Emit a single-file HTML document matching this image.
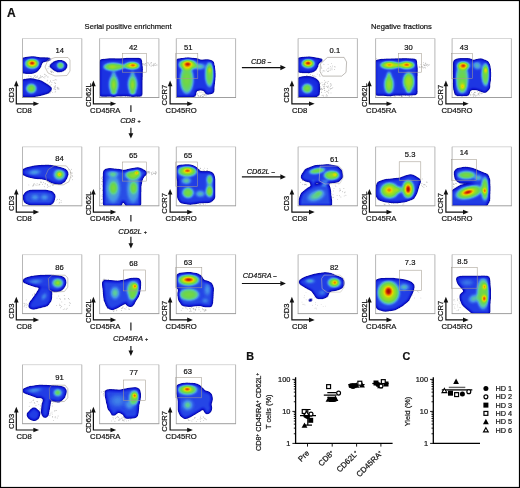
<!DOCTYPE html>
<html><head><meta charset="utf-8"><style>html,body{margin:0;padding:0;background:#fff;width:520px;height:488px;overflow:hidden}svg{display:block;will-change:transform}text{fill:#111;stroke:#111;stroke-width:0.2px}</style></head><body>
<svg width="520" height="488" viewBox="0 0 520 488" font-family="&quot;Liberation Sans&quot;, sans-serif" style="font-family:&quot;Liberation Sans&quot;, sans-serif">
<defs>
<radialGradient id="g"><stop offset="0" stop-color="#fff" stop-opacity="1"/><stop offset="0.2" stop-color="#fff" stop-opacity="0.92"/><stop offset="0.4" stop-color="#fff" stop-opacity="0.75"/><stop offset="0.6" stop-color="#fff" stop-opacity="0.5"/><stop offset="0.8" stop-color="#fff" stop-opacity="0.22"/><stop offset="1" stop-color="#fff" stop-opacity="0"/></radialGradient>
<radialGradient id="h"><stop offset="0" stop-color="#fff" stop-opacity="1"/><stop offset="0.4" stop-color="#fff" stop-opacity="0.95"/><stop offset="0.7" stop-color="#fff" stop-opacity="0.75"/><stop offset="0.85" stop-color="#fff" stop-opacity="0.4"/><stop offset="1" stop-color="#fff" stop-opacity="0"/></radialGradient>
<filter id="jet" x="-5%" y="-5%" width="110%" height="110%" color-interpolation-filters="sRGB">
<feGaussianBlur stdDeviation="0.9"/>
<feColorMatrix type="matrix" values="0 0 0 1 0  0 0 0 1 0  0 0 0 1 0  0 0 0 30 -0.25"/>
<feComponentTransfer>
<feFuncR type="table" tableValues="0 0.06 0.13 0.27 0.36 0.42 0.62 0.9 0.93 0.8 0.55"/>
<feFuncG type="table" tableValues="0 0.1 0.24 0.56 0.8 0.84 0.87 0.85 0.5 0.12 0"/>
<feFuncB type="table" tableValues="0.55 0.85 0.9 0.92 0.62 0.3 0.12 0.0 0 0.02 0"/>
</feComponentTransfer>
</filter>
<clipPath id="pc"><rect x="0" y="0" width="59.3" height="59"/></clipPath>
</defs>
<rect x="0" y="0" width="520" height="488" fill="#fff"/>
<rect x="0.5" y="0.5" width="519" height="487" fill="none" stroke="#000" stroke-width="1.2"/>
<text x="7" y="16.7" font-size="12" font-weight="bold" fill="#000">A</text>
<text x="84.6" y="28.9" font-size="7.6" fill="#222">Serial positive enrichment</text>
<text x="371.1" y="29.3" font-size="7.6" fill="#222">Negative fractions</text>
<g transform="translate(22.5,38.5)">
<g fill="#4a4a4a" opacity="0.5"><circle cx="28.6" cy="50.8" r="0.45"/><circle cx="28.7" cy="46.3" r="0.45"/><circle cx="25.3" cy="46.9" r="0.45"/><circle cx="35.3" cy="50.0" r="0.45"/><circle cx="35.1" cy="49.2" r="0.45"/><circle cx="32.2" cy="49.0" r="0.45"/><circle cx="23.5" cy="51.3" r="0.45"/><circle cx="32.7" cy="50.7" r="0.45"/><circle cx="24.6" cy="42.4" r="0.45"/><circle cx="25.5" cy="45.7" r="0.45"/><circle cx="31.7" cy="47.7" r="0.45"/><circle cx="32.7" cy="44.7" r="0.45"/><circle cx="31.7" cy="50.2" r="0.45"/><circle cx="27.4" cy="54.7" r="0.45"/><circle cx="32.6" cy="53.5" r="0.45"/><circle cx="26.9" cy="44.3" r="0.45"/><circle cx="28.1" cy="47.4" r="0.45"/><circle cx="33.4" cy="49.3" r="0.45"/><circle cx="27.8" cy="43.3" r="0.45"/><circle cx="27.6" cy="53.6" r="0.45"/><circle cx="25.8" cy="49.3" r="0.45"/><circle cx="31.8" cy="41.6" r="0.45"/><circle cx="30.2" cy="54.1" r="0.45"/><circle cx="22.6" cy="46.8" r="0.45"/><circle cx="29.4" cy="43.7" r="0.45"/><circle cx="32.7" cy="47.7" r="0.45"/><circle cx="23.9" cy="51.4" r="0.45"/><circle cx="33.2" cy="52.6" r="0.45"/><circle cx="36.3" cy="49.6" r="0.45"/><circle cx="30.6" cy="42.0" r="0.45"/><circle cx="33.2" cy="44.8" r="0.45"/><circle cx="27.9" cy="42.2" r="0.45"/><circle cx="25.3" cy="45.4" r="0.45"/><circle cx="34.2" cy="41.4" r="0.45"/><circle cx="23.6" cy="49.1" r="0.45"/><circle cx="36.2" cy="50.5" r="0.45"/><circle cx="25.2" cy="41.6" r="0.45"/><circle cx="31.9" cy="44.2" r="0.45"/><circle cx="25.1" cy="52.3" r="0.45"/><circle cx="35.4" cy="48.8" r="0.45"/><circle cx="31.3" cy="50.4" r="0.45"/><circle cx="36.5" cy="50.5" r="0.45"/><circle cx="32.7" cy="50.9" r="0.45"/><circle cx="24.2" cy="52.7" r="0.45"/><circle cx="34.7" cy="50.6" r="0.45"/><circle cx="22.8" cy="45.7" r="0.45"/><circle cx="33.1" cy="41.3" r="0.45"/><circle cx="29.1" cy="53.1" r="0.45"/><circle cx="25.2" cy="53.8" r="0.45"/><circle cx="33.0" cy="47.2" r="0.45"/></g>
<g fill="#4a4a4a" opacity="0.5"><circle cx="18.2" cy="39.3" r="0.45"/><circle cx="16.7" cy="40.1" r="0.45"/><circle cx="11.7" cy="37.2" r="0.45"/><circle cx="22.5" cy="38.0" r="0.45"/><circle cx="10.9" cy="39.7" r="0.45"/><circle cx="24.0" cy="37.3" r="0.45"/><circle cx="8.2" cy="37.8" r="0.45"/><circle cx="15.0" cy="37.4" r="0.45"/><circle cx="23.1" cy="36.4" r="0.45"/><circle cx="22.3" cy="36.1" r="0.45"/><circle cx="11.1" cy="39.2" r="0.45"/><circle cx="22.3" cy="39.4" r="0.45"/><circle cx="18.4" cy="38.3" r="0.45"/><circle cx="17.0" cy="39.2" r="0.45"/><circle cx="14.8" cy="38.6" r="0.45"/><circle cx="19.9" cy="38.0" r="0.45"/><circle cx="20.8" cy="39.1" r="0.45"/><circle cx="25.2" cy="38.4" r="0.45"/><circle cx="13.1" cy="37.2" r="0.45"/><circle cx="15.9" cy="39.8" r="0.45"/><circle cx="13.7" cy="38.8" r="0.45"/><circle cx="21.8" cy="35.6" r="0.45"/><circle cx="9.2" cy="38.4" r="0.45"/><circle cx="18.7" cy="38.5" r="0.45"/><circle cx="13.2" cy="39.3" r="0.45"/><circle cx="17.9" cy="36.9" r="0.45"/><circle cx="25.6" cy="38.4" r="0.45"/><circle cx="12.2" cy="37.8" r="0.45"/><circle cx="14.4" cy="37.9" r="0.45"/><circle cx="6.3" cy="37.5" r="0.45"/></g>
<g fill="#4a4a4a" opacity="0.5"><circle cx="31.2" cy="28.5" r="0.45"/><circle cx="28.8" cy="33.4" r="0.45"/><circle cx="30.8" cy="34.0" r="0.45"/><circle cx="25.5" cy="30.3" r="0.45"/><circle cx="28.1" cy="32.7" r="0.45"/><circle cx="30.5" cy="27.3" r="0.45"/><circle cx="31.2" cy="28.1" r="0.45"/><circle cx="30.4" cy="27.9" r="0.45"/><circle cx="29.4" cy="33.8" r="0.45"/><circle cx="28.6" cy="31.5" r="0.45"/><circle cx="31.1" cy="31.4" r="0.45"/><circle cx="28.8" cy="34.3" r="0.45"/><circle cx="31.6" cy="30.3" r="0.45"/><circle cx="32.7" cy="29.5" r="0.45"/><circle cx="31.3" cy="30.3" r="0.45"/><circle cx="29.4" cy="32.9" r="0.45"/><circle cx="29.6" cy="32.7" r="0.45"/><circle cx="26.3" cy="28.3" r="0.45"/><circle cx="30.5" cy="28.7" r="0.45"/><circle cx="27.0" cy="28.1" r="0.45"/></g>
<g clip-path="url(#pc)"><g filter="url(#jet)">
<path d="M0.0 20.2 L5.0 19.4 L12.0 19.3 L17.5 20.0 L22.0 19.9 L27.5 20.2 L29.0 20.8 L25.0 21.8 L20.0 22.7 L18.0 25.0 L16.5 29.0 L14.0 32.5 L10.0 34.2 L4.0 34.3 L0.0 33.8 Z" fill="#fff" fill-opacity="0.15"/>
<ellipse cx="9.6" cy="25.5" rx="10" ry="7.5" fill="url(#g)" opacity="0.22"/>
<ellipse cx="9.6" cy="25.0" rx="7.5" ry="5.2" fill="url(#h)" opacity="0.5"/>
<ellipse cx="9.6" cy="24.6" rx="4.5" ry="2.8" fill="url(#g)" opacity="0.85"/>
<ellipse cx="9.6" cy="24.5" rx="2.8" ry="1.5" fill="url(#g)" opacity="1.0"/>
<path d="M27.5 27.5 L30.0 25.2 L33.0 23.3 L37.0 22.8 L41.0 23.5 L43.5 25.5 L44.0 27.5 L42.5 30.5 L39.0 32.5 L35.0 32.8 L31.0 30.5 Z" fill="#fff" fill-opacity="0.15"/>
<ellipse cx="38" cy="26.9" rx="4.2" ry="4.0" fill="url(#h)" opacity="0.42"/>
<path d="M-0.5 41.9 L8.1 40.8 L18.0 42.8 L24.1 46.5 L29.0 49.9 L25.9 53.9 L18.0 56.3 L9.3 57.8 L-0.5 57.6 Z" fill="#fff" fill-opacity="0.15"/>
<ellipse cx="8.8" cy="50.0" rx="7.5" ry="7" fill="url(#g)" opacity="0.22"/>
<ellipse cx="8.8" cy="50.0" rx="5.5" ry="5.2" fill="url(#h)" opacity="0.33"/>
</g></g>
<path d="M32.5 19.0 L45.5 19.0 L47.5 21.5 L47.5 32.5 L44.5 37.0 L32.5 37.5 L25.5 34.5 L22.5 28.5 L25.5 21.5 Z" fill="none" stroke="#a39c90" stroke-width="0.55" stroke-linejoin="round"/>
<text x="37.3" y="14.55" font-size="7.6" text-anchor="middle" fill="#222">14</text>
</g>
<path d="M22.5 38.5 H81.8" stroke="#d2d2d2" stroke-width="0.9" fill="none"/>
<path d="M81.8 38.5 V97.5" stroke="#a4a4a4" stroke-width="0.8" fill="none"/>
<path d="M22.5 38.5 V97.5" stroke="#a4a4a4" stroke-width="0.8" fill="none"/>
<path d="M22.1 97.5 H82.2" stroke="#8e8e8e" stroke-width="0.85" fill="none"/>
<path d="M16.3 85.5 V103.8 H34.1" fill="none" stroke="#111" stroke-width="1.2"/>
<path d="M14.0 86.3 L16.3 80.6 L18.6 86.3 Z" fill="#111"/>
<path d="M33.4 101.5 L39.1 103.8 L33.4 106.1 Z" fill="#111"/>
<text x="16.40" y="112.90" font-size="7.7" fill="#222">CD8</text>
<text transform="translate(13.60,95.10) rotate(-90)" text-anchor="middle" font-size="7.6" fill="#222">CD3</text>
<g transform="translate(99.6,38.5)">
<g fill="#4a4a4a" opacity="0.5"><circle cx="1.4" cy="45.4" r="0.45"/><circle cx="1.4" cy="29.5" r="0.45"/><circle cx="0.8" cy="25.6" r="0.45"/><circle cx="1.1" cy="52.4" r="0.45"/><circle cx="1.3" cy="36.0" r="0.45"/><circle cx="0.7" cy="30.7" r="0.45"/><circle cx="1.0" cy="43.0" r="0.45"/><circle cx="1.4" cy="28.9" r="0.45"/><circle cx="1.2" cy="51.0" r="0.45"/><circle cx="1.4" cy="36.2" r="0.45"/><circle cx="0.9" cy="39.6" r="0.45"/><circle cx="1.4" cy="35.4" r="0.45"/><circle cx="1.0" cy="30.7" r="0.45"/><circle cx="0.8" cy="47.7" r="0.45"/><circle cx="0.8" cy="51.8" r="0.45"/><circle cx="0.8" cy="49.6" r="0.45"/><circle cx="1.3" cy="50.6" r="0.45"/><circle cx="0.7" cy="37.6" r="0.45"/><circle cx="1.5" cy="38.4" r="0.45"/><circle cx="1.1" cy="48.9" r="0.45"/></g>
<g fill="#4a4a4a" opacity="0.5"><circle cx="49.1" cy="24.5" r="0.45"/><circle cx="47.4" cy="27.3" r="0.45"/><circle cx="43.3" cy="25.4" r="0.45"/><circle cx="54.7" cy="26.9" r="0.45"/><circle cx="50.0" cy="27.1" r="0.45"/><circle cx="50.8" cy="24.6" r="0.45"/><circle cx="43.5" cy="25.3" r="0.45"/><circle cx="54.5" cy="25.3" r="0.45"/><circle cx="45.7" cy="25.1" r="0.45"/><circle cx="43.4" cy="25.9" r="0.45"/><circle cx="44.4" cy="26.4" r="0.45"/><circle cx="42.3" cy="26.3" r="0.45"/><circle cx="47.7" cy="24.2" r="0.45"/><circle cx="53.8" cy="25.6" r="0.45"/><circle cx="42.8" cy="25.3" r="0.45"/><circle cx="51.6" cy="25.4" r="0.45"/><circle cx="53.8" cy="26.9" r="0.45"/><circle cx="53.5" cy="26.4" r="0.45"/><circle cx="55.9" cy="26.7" r="0.45"/><circle cx="51.6" cy="24.1" r="0.45"/><circle cx="53.8" cy="27.4" r="0.45"/><circle cx="48.4" cy="25.4" r="0.45"/><circle cx="55.8" cy="24.7" r="0.45"/><circle cx="51.5" cy="27.9" r="0.45"/><circle cx="45.5" cy="26.8" r="0.45"/><circle cx="57.3" cy="25.9" r="0.45"/><circle cx="52.8" cy="27.1" r="0.45"/><circle cx="45.4" cy="25.9" r="0.45"/><circle cx="51.5" cy="27.1" r="0.45"/><circle cx="49.8" cy="25.7" r="0.45"/><circle cx="45.0" cy="25.6" r="0.45"/><circle cx="54.6" cy="26.1" r="0.45"/><circle cx="45.9" cy="25.0" r="0.45"/><circle cx="57.3" cy="26.8" r="0.45"/><circle cx="51.9" cy="24.1" r="0.45"/></g>
<g fill="#4a4a4a" opacity="0.5"><circle cx="29.3" cy="58.3" r="0.45"/><circle cx="37.4" cy="58.2" r="0.45"/><circle cx="21.2" cy="58.4" r="0.45"/><circle cx="6.8" cy="58.4" r="0.45"/><circle cx="25.8" cy="57.5" r="0.45"/><circle cx="8.4" cy="57.6" r="0.45"/><circle cx="25.7" cy="58.1" r="0.45"/><circle cx="17.6" cy="57.4" r="0.45"/><circle cx="37.7" cy="58.4" r="0.45"/><circle cx="11.3" cy="57.3" r="0.45"/><circle cx="36.4" cy="58.5" r="0.45"/><circle cx="37.3" cy="58.4" r="0.45"/><circle cx="12.0" cy="58.2" r="0.45"/><circle cx="5.6" cy="57.7" r="0.45"/><circle cx="21.3" cy="58.4" r="0.45"/><circle cx="13.3" cy="57.9" r="0.45"/><circle cx="27.6" cy="58.3" r="0.45"/><circle cx="29.7" cy="58.1" r="0.45"/><circle cx="22.6" cy="57.5" r="0.45"/><circle cx="14.4" cy="58.0" r="0.45"/><circle cx="20.6" cy="58.1" r="0.45"/><circle cx="22.0" cy="58.1" r="0.45"/><circle cx="20.6" cy="57.3" r="0.45"/></g>
<g clip-path="url(#pc)"><g filter="url(#jet)">
<path d="M0.8 22.0 L10.0 21.0 L20.0 21.3 L30.0 20.6 L41.0 20.8 L42.0 30.0 L41.6 45.0 L41.7 56.9 L25.0 56.5 L0.8 57.0 Z" fill="#fff" fill-opacity="0.17"/>
<ellipse cx="13.5" cy="28.3" rx="11" ry="4.6" fill="url(#h)" opacity="0.46"/>
<ellipse cx="12.5" cy="28.2" rx="5" ry="2.2" fill="url(#g)" opacity="0.2"/>
<ellipse cx="32.5" cy="27.2" rx="8.5" ry="4.0" fill="url(#h)" opacity="0.6"/>
<ellipse cx="33.5" cy="26.6" rx="4.6" ry="1.8" fill="url(#g)" opacity="1.0"/>
<ellipse cx="23" cy="27.8" rx="6" ry="3" fill="url(#g)" opacity="0.3"/>
<ellipse cx="14.1" cy="46" rx="5.6" ry="11.5" fill="url(#h)" opacity="0.34"/>
<ellipse cx="14.1" cy="46.5" rx="3.2" ry="9" fill="url(#g)" opacity="0.3"/>
<ellipse cx="33" cy="46" rx="5.6" ry="11.5" fill="url(#h)" opacity="0.34"/>
<ellipse cx="33" cy="46.5" rx="3.2" ry="9" fill="url(#g)" opacity="0.3"/>
<ellipse cx="14.1" cy="35" rx="3" ry="3" fill="url(#g)" opacity="0.22"/>
<ellipse cx="33" cy="35" rx="3" ry="3" fill="url(#g)" opacity="0.22"/>
<ellipse cx="14.1" cy="54.5" rx="4" ry="2" fill="url(#g)" opacity="0.3"/>
<ellipse cx="33" cy="54.5" rx="4" ry="2" fill="url(#g)" opacity="0.3"/>
</g></g>
<rect x="23.0" y="14.9" width="23.799999999999997" height="18.800000000000004" fill="none" stroke="#a39c90" stroke-width="0.55"/>
<text x="33.6" y="11.55" font-size="7.6" text-anchor="middle" fill="#222">42</text>
</g>
<path d="M99.6 38.5 H158.89999999999998" stroke="#d2d2d2" stroke-width="0.9" fill="none"/>
<path d="M158.89999999999998 38.5 V97.5" stroke="#a4a4a4" stroke-width="0.8" fill="none"/>
<path d="M99.6 38.5 V97.5" stroke="#a4a4a4" stroke-width="0.8" fill="none"/>
<path d="M99.19999999999999 97.5 H159.29999999999998" stroke="#8e8e8e" stroke-width="0.85" fill="none"/>
<path d="M93.39999999999999 85.5 V103.8 H111.19999999999999" fill="none" stroke="#111" stroke-width="1.2"/>
<path d="M91.1 86.3 L93.39999999999999 80.6 L95.69999999999999 86.3 Z" fill="#111"/>
<path d="M110.5 101.5 L116.19999999999999 103.8 L110.5 106.1 Z" fill="#111"/>
<text x="90.10" y="112.90" font-size="7.7" fill="#222">CD45RA</text>
<text transform="translate(90.70,95.10) rotate(-90)" text-anchor="middle" font-size="7.6" fill="#222">CD62L</text>
<g transform="translate(176.3,38.5)">
<g fill="#4a4a4a" opacity="0.5"><circle cx="26.5" cy="57.9" r="0.45"/><circle cx="26.8" cy="55.6" r="0.45"/><circle cx="26.7" cy="54.2" r="0.45"/><circle cx="19.5" cy="56.1" r="0.45"/><circle cx="21.7" cy="57.3" r="0.45"/><circle cx="22.7" cy="53.3" r="0.45"/><circle cx="22.0" cy="58.3" r="0.45"/><circle cx="23.7" cy="53.7" r="0.45"/><circle cx="22.1" cy="57.0" r="0.45"/><circle cx="27.0" cy="56.4" r="0.45"/><circle cx="29.7" cy="57.1" r="0.45"/><circle cx="24.9" cy="57.2" r="0.45"/><circle cx="29.7" cy="57.4" r="0.45"/><circle cx="28.4" cy="54.2" r="0.45"/><circle cx="24.4" cy="57.4" r="0.45"/><circle cx="23.9" cy="58.0" r="0.45"/><circle cx="27.2" cy="57.7" r="0.45"/><circle cx="29.4" cy="55.6" r="0.45"/><circle cx="23.7" cy="57.7" r="0.45"/><circle cx="28.7" cy="56.0" r="0.45"/><circle cx="20.8" cy="56.3" r="0.45"/><circle cx="26.3" cy="58.0" r="0.45"/><circle cx="28.1" cy="56.0" r="0.45"/><circle cx="28.2" cy="57.0" r="0.45"/><circle cx="25.9" cy="56.1" r="0.45"/><circle cx="24.0" cy="57.4" r="0.45"/><circle cx="21.3" cy="54.9" r="0.45"/><circle cx="25.0" cy="53.6" r="0.45"/></g>
<g fill="#4a4a4a" opacity="0.5"><circle cx="0.8" cy="26.3" r="0.45"/><circle cx="0.6" cy="45.5" r="0.45"/><circle cx="1.4" cy="39.4" r="0.45"/><circle cx="0.9" cy="28.1" r="0.45"/><circle cx="1.9" cy="43.7" r="0.45"/><circle cx="1.6" cy="32.5" r="0.45"/><circle cx="0.9" cy="26.6" r="0.45"/><circle cx="1.5" cy="48.3" r="0.45"/><circle cx="1.3" cy="27.2" r="0.45"/><circle cx="0.7" cy="28.6" r="0.45"/><circle cx="1.0" cy="42.6" r="0.45"/><circle cx="1.4" cy="46.7" r="0.45"/><circle cx="1.7" cy="48.4" r="0.45"/></g>
<g clip-path="url(#pc)"><g filter="url(#jet)">
<path d="M0.4 21.6 L10.8 20.4 L20.6 20.9 L24.3 22.6 L31.7 22.1 L36.6 23.8 L37.3 36.6 L36.8 53.8 L30.5 55.3 L28.6 51.4 L24.3 50.4 L19.4 51.4 L18.2 57.5 L0.4 58.0 Z" fill="#fff" fill-opacity="0.18"/>
<ellipse cx="10.5" cy="41" rx="7.5" ry="16" fill="url(#h)" opacity="0.42"/>
<ellipse cx="11.5" cy="26.2" rx="10" ry="6" fill="url(#h)" opacity="0.55"/>
<ellipse cx="11.4" cy="25.6" rx="5.5" ry="3.2" fill="url(#g)" opacity="0.97"/>
<ellipse cx="33.3" cy="36" rx="5" ry="14" fill="url(#h)" opacity="0.42"/>
<ellipse cx="33.5" cy="31.5" rx="2.2" ry="4" fill="url(#g)" opacity="0.45"/>
<ellipse cx="23" cy="28" rx="8" ry="4" fill="url(#g)" opacity="0.3"/>
</g></g>
<rect x="-0.5" y="14.9" width="22.0" height="24.9" fill="none" stroke="#a39c90" stroke-width="0.55"/>
<text x="11.9" y="11.45" font-size="7.6" text-anchor="middle" fill="#222">51</text>
</g>
<path d="M176.3 38.5 H235.60000000000002" stroke="#d2d2d2" stroke-width="0.9" fill="none"/>
<path d="M235.60000000000002 38.5 V97.5" stroke="#a4a4a4" stroke-width="0.8" fill="none"/>
<path d="M176.3 38.5 V97.5" stroke="#a4a4a4" stroke-width="0.8" fill="none"/>
<path d="M175.9 97.5 H236.00000000000003" stroke="#8e8e8e" stroke-width="0.85" fill="none"/>
<path d="M170.10000000000002 85.5 V103.8 H187.9" fill="none" stroke="#111" stroke-width="1.2"/>
<path d="M167.8 86.3 L170.10000000000002 80.6 L172.40000000000003 86.3 Z" fill="#111"/>
<path d="M187.20000000000002 101.5 L192.9 103.8 L187.20000000000002 106.1 Z" fill="#111"/>
<text x="165.60" y="112.90" font-size="7.7" fill="#222">CD45RO</text>
<text transform="translate(167.40,95.10) rotate(-90)" text-anchor="middle" font-size="7.6" fill="#222">CCR7</text>
<g transform="translate(298.1,38.5)">
<g fill="#4a4a4a" opacity="0.5"><circle cx="21.1" cy="47.7" r="0.45"/><circle cx="22.4" cy="45.3" r="0.45"/><circle cx="26.5" cy="50.0" r="0.45"/><circle cx="29.0" cy="43.4" r="0.45"/><circle cx="21.1" cy="49.9" r="0.45"/><circle cx="25.9" cy="48.3" r="0.45"/><circle cx="26.7" cy="46.0" r="0.45"/><circle cx="30.7" cy="51.9" r="0.45"/><circle cx="26.5" cy="46.4" r="0.45"/><circle cx="26.5" cy="42.1" r="0.45"/><circle cx="22.1" cy="50.2" r="0.45"/><circle cx="20.4" cy="50.9" r="0.45"/><circle cx="27.7" cy="43.8" r="0.45"/><circle cx="25.6" cy="48.3" r="0.45"/><circle cx="29.4" cy="53.2" r="0.45"/><circle cx="26.8" cy="45.6" r="0.45"/><circle cx="26.2" cy="49.6" r="0.45"/><circle cx="30.8" cy="51.5" r="0.45"/><circle cx="23.9" cy="44.1" r="0.45"/><circle cx="25.1" cy="46.1" r="0.45"/><circle cx="21.6" cy="49.4" r="0.45"/><circle cx="24.3" cy="50.6" r="0.45"/><circle cx="29.8" cy="47.8" r="0.45"/><circle cx="34.7" cy="48.9" r="0.45"/><circle cx="32.4" cy="50.6" r="0.45"/><circle cx="30.3" cy="42.9" r="0.45"/><circle cx="23.1" cy="51.3" r="0.45"/><circle cx="28.9" cy="57.5" r="0.45"/><circle cx="28.5" cy="55.9" r="0.45"/><circle cx="30.6" cy="54.5" r="0.45"/><circle cx="29.8" cy="49.1" r="0.45"/><circle cx="29.4" cy="44.8" r="0.45"/><circle cx="32.1" cy="45.6" r="0.45"/><circle cx="27.9" cy="57.5" r="0.45"/><circle cx="25.7" cy="50.1" r="0.45"/><circle cx="32.6" cy="50.1" r="0.45"/><circle cx="22.8" cy="51.3" r="0.45"/><circle cx="30.0" cy="53.6" r="0.45"/><circle cx="24.0" cy="56.7" r="0.45"/><circle cx="33.9" cy="50.1" r="0.45"/><circle cx="28.5" cy="47.7" r="0.45"/><circle cx="33.0" cy="47.0" r="0.45"/><circle cx="30.5" cy="47.5" r="0.45"/><circle cx="23.5" cy="53.6" r="0.45"/><circle cx="33.1" cy="50.0" r="0.45"/><circle cx="23.6" cy="54.0" r="0.45"/><circle cx="26.7" cy="51.7" r="0.45"/><circle cx="32.9" cy="54.4" r="0.45"/><circle cx="25.3" cy="57.5" r="0.45"/><circle cx="27.0" cy="54.1" r="0.45"/><circle cx="23.5" cy="49.8" r="0.45"/><circle cx="21.5" cy="55.6" r="0.45"/><circle cx="32.4" cy="45.2" r="0.45"/><circle cx="21.8" cy="44.4" r="0.45"/><circle cx="32.5" cy="47.8" r="0.45"/><circle cx="26.7" cy="48.3" r="0.45"/><circle cx="26.4" cy="44.7" r="0.45"/><circle cx="27.1" cy="43.6" r="0.45"/><circle cx="26.6" cy="51.7" r="0.45"/><circle cx="29.6" cy="48.7" r="0.45"/><circle cx="22.4" cy="50.8" r="0.45"/><circle cx="25.0" cy="56.6" r="0.45"/><circle cx="31.0" cy="49.4" r="0.45"/><circle cx="24.6" cy="46.4" r="0.45"/><circle cx="22.3" cy="48.2" r="0.45"/><circle cx="28.6" cy="52.8" r="0.45"/><circle cx="29.0" cy="57.3" r="0.45"/><circle cx="23.2" cy="50.1" r="0.45"/><circle cx="33.6" cy="45.6" r="0.45"/><circle cx="24.2" cy="50.9" r="0.45"/></g>
<g fill="#4a4a4a" opacity="0.5"><circle cx="30.9" cy="31.7" r="0.45"/><circle cx="28.7" cy="31.5" r="0.45"/><circle cx="30.3" cy="33.0" r="0.45"/><circle cx="23.2" cy="27.6" r="0.45"/><circle cx="30.0" cy="26.1" r="0.45"/><circle cx="25.0" cy="32.2" r="0.45"/><circle cx="26.7" cy="32.4" r="0.45"/><circle cx="33.9" cy="31.2" r="0.45"/><circle cx="32.8" cy="29.6" r="0.45"/><circle cx="23.7" cy="29.9" r="0.45"/><circle cx="32.4" cy="27.9" r="0.45"/><circle cx="29.5" cy="33.0" r="0.45"/><circle cx="25.7" cy="32.4" r="0.45"/><circle cx="37.1" cy="28.4" r="0.45"/><circle cx="30.8" cy="29.4" r="0.45"/><circle cx="36.6" cy="31.0" r="0.45"/><circle cx="34.4" cy="27.5" r="0.45"/><circle cx="29.9" cy="30.0" r="0.45"/><circle cx="24.0" cy="33.6" r="0.45"/><circle cx="33.4" cy="25.1" r="0.45"/><circle cx="33.9" cy="29.5" r="0.45"/><circle cx="32.4" cy="31.5" r="0.45"/><circle cx="23.5" cy="29.3" r="0.45"/><circle cx="36.3" cy="28.2" r="0.45"/><circle cx="25.8" cy="25.8" r="0.45"/></g>
<g fill="#4a4a4a" opacity="0.5"><circle cx="9.3" cy="37.6" r="0.45"/><circle cx="21.9" cy="37.7" r="0.45"/><circle cx="15.8" cy="39.9" r="0.45"/><circle cx="12.3" cy="35.7" r="0.45"/><circle cx="17.8" cy="38.1" r="0.45"/><circle cx="10.6" cy="35.1" r="0.45"/><circle cx="16.6" cy="37.5" r="0.45"/><circle cx="9.0" cy="36.6" r="0.45"/><circle cx="12.1" cy="37.9" r="0.45"/><circle cx="14.3" cy="36.8" r="0.45"/><circle cx="13.3" cy="38.9" r="0.45"/><circle cx="21.2" cy="36.4" r="0.45"/><circle cx="19.1" cy="35.6" r="0.45"/><circle cx="15.4" cy="38.5" r="0.45"/><circle cx="21.5" cy="36.4" r="0.45"/><circle cx="14.6" cy="37.4" r="0.45"/><circle cx="8.4" cy="37.0" r="0.45"/><circle cx="11.4" cy="37.7" r="0.45"/><circle cx="11.2" cy="34.5" r="0.45"/><circle cx="15.2" cy="37.5" r="0.45"/></g>
<g clip-path="url(#pc)"><g filter="url(#jet)">
<path d="M0.0 20.3 L5.0 19.4 L12.0 19.3 L17.0 20.1 L21.0 20.8 L25.0 21.6 L22.0 22.8 L19.5 24.8 L19.0 28.0 L17.0 31.5 L13.0 33.3 L6.0 33.5 L0.0 33.0 Z" fill="#fff" fill-opacity="0.15"/>
<ellipse cx="10" cy="25.3" rx="9" ry="6.5" fill="url(#g)" opacity="0.22"/>
<ellipse cx="10" cy="25.0" rx="7" ry="4.6" fill="url(#h)" opacity="0.5"/>
<ellipse cx="10" cy="24.6" rx="4.8" ry="2.8" fill="url(#g)" opacity="0.85"/>
<ellipse cx="10" cy="24.6" rx="3" ry="1.5" fill="url(#g)" opacity="1.0"/>
<path d="M0.0 40.0 L5.0 38.8 L12.0 38.8 L17.0 40.5 L20.5 44.0 L20.8 50.0 L20.5 56.0 L18.0 57.8 L0.0 57.8 Z" fill="#fff" fill-opacity="0.15"/>
<ellipse cx="9.1" cy="50" rx="8" ry="7" fill="url(#g)" opacity="0.22"/>
<ellipse cx="9.1" cy="49.9" rx="5.5" ry="5.2" fill="url(#h)" opacity="0.33"/>
</g></g>
<path d="M29.4 18.9 L46.0 18.9 L48.5 23.5 L47.9 33.9 L43.6 37.6 L24.5 37.6 L22.0 33.3 L22.3 25.3 Z" fill="none" stroke="#8a857c" stroke-width="0.55" stroke-linejoin="round"/>
<text x="36.8" y="14.25" font-size="7.6" text-anchor="middle" fill="#222">0.1</text>
</g>
<path d="M298.1 38.5 H357.40000000000003" stroke="#d2d2d2" stroke-width="0.9" fill="none"/>
<path d="M357.40000000000003 38.5 V97.5" stroke="#a4a4a4" stroke-width="0.8" fill="none"/>
<path d="M298.1 38.5 V97.5" stroke="#a4a4a4" stroke-width="0.8" fill="none"/>
<path d="M297.70000000000005 97.5 H357.8" stroke="#8e8e8e" stroke-width="0.85" fill="none"/>
<path d="M291.90000000000003 85.5 V103.8 H309.70000000000005" fill="none" stroke="#111" stroke-width="1.2"/>
<path d="M289.6 86.3 L291.90000000000003 80.6 L294.20000000000005 86.3 Z" fill="#111"/>
<path d="M309.0 101.5 L314.70000000000005 103.8 L309.0 106.1 Z" fill="#111"/>
<text x="292.00" y="112.90" font-size="7.7" fill="#222">CD8</text>
<text transform="translate(289.20,95.10) rotate(-90)" text-anchor="middle" font-size="7.6" fill="#222">CD3</text>
<g transform="translate(375.6,38.5)">
<g fill="#4a4a4a" opacity="0.5"><circle cx="0.5" cy="47.9" r="0.45"/><circle cx="0.7" cy="30.7" r="0.45"/><circle cx="1.0" cy="23.2" r="0.45"/><circle cx="1.2" cy="36.1" r="0.45"/><circle cx="1.0" cy="30.2" r="0.45"/><circle cx="0.9" cy="53.4" r="0.45"/><circle cx="0.6" cy="54.9" r="0.45"/><circle cx="0.9" cy="49.5" r="0.45"/><circle cx="1.1" cy="47.0" r="0.45"/><circle cx="1.0" cy="55.3" r="0.45"/><circle cx="0.9" cy="41.2" r="0.45"/><circle cx="1.3" cy="42.2" r="0.45"/><circle cx="1.4" cy="27.9" r="0.45"/><circle cx="0.7" cy="20.1" r="0.45"/><circle cx="1.2" cy="33.7" r="0.45"/><circle cx="1.1" cy="54.0" r="0.45"/><circle cx="0.8" cy="34.8" r="0.45"/><circle cx="0.5" cy="28.5" r="0.45"/><circle cx="0.8" cy="38.8" r="0.45"/><circle cx="0.7" cy="48.5" r="0.45"/><circle cx="1.1" cy="36.3" r="0.45"/></g>
<g fill="#4a4a4a" opacity="0.5"><circle cx="50.7" cy="26.7" r="0.45"/><circle cx="44.6" cy="29.1" r="0.45"/><circle cx="49.7" cy="25.2" r="0.45"/><circle cx="51.9" cy="27.6" r="0.45"/><circle cx="44.0" cy="29.1" r="0.45"/><circle cx="49.3" cy="28.7" r="0.45"/><circle cx="48.8" cy="26.7" r="0.45"/><circle cx="43.4" cy="28.4" r="0.45"/><circle cx="48.1" cy="26.4" r="0.45"/><circle cx="49.5" cy="27.2" r="0.45"/><circle cx="50.7" cy="26.3" r="0.45"/><circle cx="47.9" cy="24.2" r="0.45"/><circle cx="46.3" cy="28.3" r="0.45"/><circle cx="52.5" cy="26.4" r="0.45"/><circle cx="47.6" cy="29.5" r="0.45"/><circle cx="46.7" cy="28.4" r="0.45"/><circle cx="53.2" cy="27.1" r="0.45"/><circle cx="52.1" cy="25.8" r="0.45"/><circle cx="48.9" cy="26.8" r="0.45"/><circle cx="48.4" cy="29.1" r="0.45"/><circle cx="53.6" cy="26.2" r="0.45"/><circle cx="45.7" cy="28.0" r="0.45"/><circle cx="44.2" cy="27.9" r="0.45"/><circle cx="50.3" cy="26.4" r="0.45"/><circle cx="49.7" cy="24.6" r="0.45"/><circle cx="50.3" cy="24.6" r="0.45"/><circle cx="45.3" cy="25.9" r="0.45"/><circle cx="46.5" cy="28.6" r="0.45"/><circle cx="48.3" cy="26.2" r="0.45"/><circle cx="49.7" cy="29.5" r="0.45"/></g>
<g fill="#4a4a4a" opacity="0.5"><circle cx="26.1" cy="57.8" r="0.45"/><circle cx="36.2" cy="57.7" r="0.45"/><circle cx="19.6" cy="58.4" r="0.45"/><circle cx="36.3" cy="56.8" r="0.45"/><circle cx="25.6" cy="57.8" r="0.45"/><circle cx="34.1" cy="57.9" r="0.45"/><circle cx="23.7" cy="56.9" r="0.45"/><circle cx="26.9" cy="58.1" r="0.45"/><circle cx="17.6" cy="56.9" r="0.45"/><circle cx="25.8" cy="56.6" r="0.45"/><circle cx="23.5" cy="57.2" r="0.45"/><circle cx="30.1" cy="57.0" r="0.45"/><circle cx="18.2" cy="57.3" r="0.45"/><circle cx="25.5" cy="57.1" r="0.45"/><circle cx="26.1" cy="58.0" r="0.45"/><circle cx="33.5" cy="58.3" r="0.45"/><circle cx="19.0" cy="57.2" r="0.45"/><circle cx="14.9" cy="58.1" r="0.45"/><circle cx="19.3" cy="57.5" r="0.45"/><circle cx="30.1" cy="56.7" r="0.45"/></g>
<g clip-path="url(#pc)"><g filter="url(#jet)">
<path d="M0.5 22.5 L8.0 21.5 L20.0 21.2 L30.0 21.0 L40.0 21.4 L40.8 30.0 L40.5 45.0 L40.7 55.6 L25.0 55.8 L0.5 56.0 Z" fill="#fff" fill-opacity="0.18"/>
<ellipse cx="14" cy="26.6" rx="10.5" ry="4.3" fill="url(#h)" opacity="0.55"/>
<ellipse cx="13.8" cy="26.2" rx="5" ry="2" fill="url(#g)" opacity="0.66"/>
<ellipse cx="31" cy="26.6" rx="9" ry="4.1" fill="url(#h)" opacity="0.62"/>
<ellipse cx="31.1" cy="26.1" rx="4.3" ry="1.7" fill="url(#g)" opacity="0.98"/>
<ellipse cx="22.5" cy="26.6" rx="5" ry="3" fill="url(#g)" opacity="0.42"/>
<ellipse cx="13.4" cy="46" rx="7.5" ry="13" fill="url(#g)" opacity="0.14"/>
<ellipse cx="33.1" cy="44" rx="8.5" ry="13" fill="url(#g)" opacity="0.14"/>
<ellipse cx="13.4" cy="46" rx="4.8" ry="10.5" fill="url(#h)" opacity="0.42"/>
<ellipse cx="13.4" cy="36" rx="2.8" ry="4" fill="url(#g)" opacity="0.3"/>
<ellipse cx="33.1" cy="43" rx="6.0" ry="10" fill="url(#h)" opacity="0.47"/>
<ellipse cx="33.1" cy="52" rx="3.2" ry="4" fill="url(#g)" opacity="0.35"/>
</g></g>
<rect x="22.8" y="15.2" width="23.3" height="18.500000000000004" fill="none" stroke="#a39c90" stroke-width="0.55"/>
<text x="32.9" y="11.45" font-size="7.6" text-anchor="middle" fill="#222">30</text>
</g>
<path d="M375.6 38.5 H434.90000000000003" stroke="#d2d2d2" stroke-width="0.9" fill="none"/>
<path d="M434.90000000000003 38.5 V97.5" stroke="#a4a4a4" stroke-width="0.8" fill="none"/>
<path d="M375.6 38.5 V97.5" stroke="#a4a4a4" stroke-width="0.8" fill="none"/>
<path d="M375.20000000000005 97.5 H435.3" stroke="#8e8e8e" stroke-width="0.85" fill="none"/>
<path d="M369.40000000000003 85.5 V103.8 H387.20000000000005" fill="none" stroke="#111" stroke-width="1.2"/>
<path d="M367.1 86.3 L369.40000000000003 80.6 L371.70000000000005 86.3 Z" fill="#111"/>
<path d="M386.5 101.5 L392.20000000000005 103.8 L386.5 106.1 Z" fill="#111"/>
<text x="366.10" y="112.90" font-size="7.7" fill="#222">CD45RA</text>
<text transform="translate(366.70,95.10) rotate(-90)" text-anchor="middle" font-size="7.6" fill="#222">CD62L</text>
<g transform="translate(452.1,38.5)">
<g fill="#4a4a4a" opacity="0.5"><circle cx="26.2" cy="54.9" r="0.45"/><circle cx="17.7" cy="55.4" r="0.45"/><circle cx="27.6" cy="52.6" r="0.45"/><circle cx="27.7" cy="55.4" r="0.45"/><circle cx="26.2" cy="55.9" r="0.45"/><circle cx="29.3" cy="54.6" r="0.45"/><circle cx="27.9" cy="54.2" r="0.45"/><circle cx="27.1" cy="53.5" r="0.45"/><circle cx="23.6" cy="57.6" r="0.45"/><circle cx="26.1" cy="54.7" r="0.45"/><circle cx="19.5" cy="53.7" r="0.45"/><circle cx="24.9" cy="56.8" r="0.45"/><circle cx="26.0" cy="56.1" r="0.45"/><circle cx="23.8" cy="57.3" r="0.45"/><circle cx="22.2" cy="53.9" r="0.45"/><circle cx="28.0" cy="55.1" r="0.45"/><circle cx="22.7" cy="53.8" r="0.45"/><circle cx="22.8" cy="56.3" r="0.45"/><circle cx="25.5" cy="52.9" r="0.45"/><circle cx="26.1" cy="55.4" r="0.45"/><circle cx="19.9" cy="56.4" r="0.45"/><circle cx="22.6" cy="54.3" r="0.45"/><circle cx="27.0" cy="57.1" r="0.45"/><circle cx="20.9" cy="55.9" r="0.45"/><circle cx="21.6" cy="57.7" r="0.45"/><circle cx="22.0" cy="57.1" r="0.45"/><circle cx="21.2" cy="56.5" r="0.45"/><circle cx="28.6" cy="52.7" r="0.45"/><circle cx="22.0" cy="56.0" r="0.45"/><circle cx="23.6" cy="53.7" r="0.45"/><circle cx="30.6" cy="55.1" r="0.45"/><circle cx="18.4" cy="56.3" r="0.45"/><circle cx="18.5" cy="56.6" r="0.45"/><circle cx="21.3" cy="55.3" r="0.45"/><circle cx="29.2" cy="55.2" r="0.45"/></g>
<g fill="#4a4a4a" opacity="0.5"><circle cx="1.3" cy="46.3" r="0.45"/><circle cx="1.1" cy="46.3" r="0.45"/><circle cx="1.2" cy="46.6" r="0.45"/><circle cx="1.1" cy="26.1" r="0.45"/><circle cx="0.9" cy="45.0" r="0.45"/><circle cx="1.5" cy="34.8" r="0.45"/><circle cx="0.6" cy="40.4" r="0.45"/><circle cx="1.2" cy="35.8" r="0.45"/><circle cx="1.3" cy="33.3" r="0.45"/><circle cx="0.9" cy="34.6" r="0.45"/><circle cx="0.9" cy="33.1" r="0.45"/></g>
<g clip-path="url(#pc)"><g filter="url(#jet)">
<path d="M2.3 22.5 L5.9 21.0 L17.9 21.0 L21.0 23.0 L25.9 21.5 L28.9 21.0 L34.9 23.5 L36.9 27.0 L37.0 40.0 L36.9 49.5 L33.0 53.5 L29.0 52.0 L25.0 50.5 L20.0 50.0 L17.0 52.0 L16.0 56.3 L4.0 56.3 L2.3 50.0 Z" fill="#fff" fill-opacity="0.18"/>
<ellipse cx="10" cy="40" rx="7" ry="17" fill="url(#h)" opacity="0.4"/>
<ellipse cx="10" cy="48" rx="6" ry="7" fill="url(#g)" opacity="0.2"/>
<ellipse cx="11.2" cy="27.2" rx="7" ry="4.5" fill="url(#h)" opacity="0.6"/>
<ellipse cx="11.4" cy="27.0" rx="3.8" ry="2.0" fill="url(#g)" opacity="0.98"/>
<ellipse cx="10.5" cy="48.1" rx="2.5" ry="3.5" fill="url(#g)" opacity="0.6"/>
<ellipse cx="33.5" cy="36" rx="4.5" ry="13" fill="url(#h)" opacity="0.42"/>
<ellipse cx="33.6" cy="31.8" rx="1.8" ry="3.5" fill="url(#g)" opacity="0.82"/>
<ellipse cx="25" cy="27" rx="6" ry="5" fill="url(#g)" opacity="0.25" transform="rotate(30 25 27)"/>
<ellipse cx="22" cy="39.5" rx="0.8" ry="0.8" fill="#fff" fill-opacity="0"/>
</g></g>
<rect x="-0.5" y="14.9" width="20.9" height="25.200000000000003" fill="none" stroke="#a39c90" stroke-width="0.55"/>
<text x="11.8" y="11.05" font-size="7.6" text-anchor="middle" fill="#222">43</text>
</g>
<path d="M452.1 38.5 H511.40000000000003" stroke="#d2d2d2" stroke-width="0.9" fill="none"/>
<path d="M511.40000000000003 38.5 V97.5" stroke="#a4a4a4" stroke-width="0.8" fill="none"/>
<path d="M452.1 38.5 V97.5" stroke="#a4a4a4" stroke-width="0.8" fill="none"/>
<path d="M451.70000000000005 97.5 H511.8" stroke="#8e8e8e" stroke-width="0.85" fill="none"/>
<path d="M445.90000000000003 85.5 V103.8 H463.70000000000005" fill="none" stroke="#111" stroke-width="1.2"/>
<path d="M443.6 86.3 L445.90000000000003 80.6 L448.20000000000005 86.3 Z" fill="#111"/>
<path d="M463.0 101.5 L468.70000000000005 103.8 L463.0 106.1 Z" fill="#111"/>
<text x="441.40" y="112.90" font-size="7.7" fill="#222">CD45RO</text>
<text transform="translate(443.20,95.10) rotate(-90)" text-anchor="middle" font-size="7.6" fill="#222">CCR7</text>
<g transform="translate(22.5,146.8)">
<g fill="#4a4a4a" opacity="0.5"><circle cx="22.9" cy="36.9" r="0.45"/><circle cx="21.8" cy="39.9" r="0.45"/><circle cx="11.4" cy="37.8" r="0.45"/><circle cx="25.0" cy="39.0" r="0.45"/><circle cx="17.9" cy="35.2" r="0.45"/><circle cx="30.2" cy="38.6" r="0.45"/><circle cx="20.1" cy="37.4" r="0.45"/><circle cx="22.5" cy="37.1" r="0.45"/><circle cx="11.6" cy="36.7" r="0.45"/><circle cx="14.6" cy="36.8" r="0.45"/><circle cx="10.6" cy="39.1" r="0.45"/><circle cx="9.9" cy="39.1" r="0.45"/><circle cx="11.2" cy="38.7" r="0.45"/><circle cx="30.9" cy="38.3" r="0.45"/><circle cx="13.2" cy="38.1" r="0.45"/><circle cx="21.1" cy="35.4" r="0.45"/><circle cx="14.3" cy="38.3" r="0.45"/><circle cx="15.5" cy="38.2" r="0.45"/><circle cx="26.4" cy="39.4" r="0.45"/><circle cx="27.8" cy="39.1" r="0.45"/><circle cx="17.2" cy="38.0" r="0.45"/><circle cx="17.4" cy="37.3" r="0.45"/><circle cx="18.7" cy="35.4" r="0.45"/><circle cx="16.7" cy="37.9" r="0.45"/><circle cx="11.4" cy="38.0" r="0.45"/><circle cx="24.9" cy="37.7" r="0.45"/><circle cx="28.7" cy="35.7" r="0.45"/><circle cx="18.6" cy="35.3" r="0.45"/><circle cx="24.8" cy="40.8" r="0.45"/><circle cx="6.3" cy="38.1" r="0.45"/></g>
<g fill="#4a4a4a" opacity="0.5"><circle cx="49.4" cy="26.8" r="0.45"/><circle cx="48.9" cy="22.4" r="0.45"/><circle cx="50.2" cy="29.4" r="0.45"/><circle cx="48.1" cy="25.6" r="0.45"/><circle cx="49.7" cy="26.1" r="0.45"/><circle cx="48.6" cy="25.9" r="0.45"/><circle cx="44.2" cy="27.9" r="0.45"/><circle cx="48.5" cy="31.0" r="0.45"/><circle cx="45.7" cy="27.9" r="0.45"/><circle cx="49.7" cy="28.6" r="0.45"/><circle cx="50.0" cy="32.9" r="0.45"/><circle cx="46.4" cy="22.9" r="0.45"/></g>
<g fill="#4a4a4a" opacity="0.5"><circle cx="36.6" cy="56.3" r="0.45"/><circle cx="37.3" cy="55.4" r="0.45"/><circle cx="31.6" cy="52.6" r="0.45"/><circle cx="37.1" cy="52.4" r="0.45"/><circle cx="29.1" cy="52.6" r="0.45"/><circle cx="38.7" cy="55.8" r="0.45"/><circle cx="31.4" cy="52.6" r="0.45"/><circle cx="34.9" cy="52.5" r="0.45"/><circle cx="38.6" cy="53.9" r="0.45"/><circle cx="30.6" cy="56.0" r="0.45"/><circle cx="31.6" cy="54.4" r="0.45"/><circle cx="33.9" cy="53.3" r="0.45"/></g>
<g clip-path="url(#pc)"><g filter="url(#jet)">
<path d="M0.5 24.2 L3.0 22.2 L12.5 19.9 L25.5 19.2 L32.5 20.2 L37.5 21.7 L42.5 23.2 L45.0 26.2 L43.5 31.0 L41.5 34.2 L37.5 36.7 L29.5 35.2 L24.5 32.2 L19.5 31.2 L12.5 30.7 L5.5 29.2 L1.0 27.2 Z" fill="#fff" fill-opacity="0.2"/>
<ellipse cx="12" cy="25.5" rx="8" ry="3.2" fill="url(#g)" opacity="0.18" transform="rotate(-5 12 25.5)"/>
<ellipse cx="37" cy="27.8" rx="6.5" ry="6" fill="url(#h)" opacity="0.3"/>
<ellipse cx="37" cy="27.6" rx="3.6" ry="3.3" fill="url(#g)" opacity="0.52"/>
<ellipse cx="37" cy="27.6" rx="1.9" ry="1.7" fill="url(#g)" opacity="0.88"/>
<path d="M1.5 49.2 L4.0 46.0 L7.5 44.5 L22.5 44.2 L29.5 45.7 L32.0 49.2 L30.0 55.5 L27.5 57.2 L7.5 57.2 L2.5 55.0 Z" fill="#fff" fill-opacity="0.22"/>
<ellipse cx="12.5" cy="50.5" rx="5" ry="3.5" fill="url(#g)" opacity="0.14"/>
<ellipse cx="22" cy="50.5" rx="5" ry="3.5" fill="url(#g)" opacity="0.14"/>
</g></g>
<path d="M31.7 18.9 L43.8 19.1 L47.7 23.8 L48.5 28.7 L46.5 34.9 L40.7 38.1 L30.3 37.6 L24.1 34.3 L23.1 28.7 L25.9 22.6 Z" fill="none" stroke="#a39c90" stroke-width="0.55" stroke-linejoin="round"/>
<text x="37.0" y="14.45" font-size="7.6" text-anchor="middle" fill="#222">84</text>
</g>
<path d="M22.5 146.8 H81.8" stroke="#d2d2d2" stroke-width="0.9" fill="none"/>
<path d="M81.8 146.8 V205.8" stroke="#a4a4a4" stroke-width="0.8" fill="none"/>
<path d="M22.5 146.8 V205.8" stroke="#a4a4a4" stroke-width="0.8" fill="none"/>
<path d="M22.1 205.8 H82.2" stroke="#8e8e8e" stroke-width="0.85" fill="none"/>
<path d="M16.3 193.8 V212.10000000000002 H34.1" fill="none" stroke="#111" stroke-width="1.2"/>
<path d="M14.0 194.60000000000002 L16.3 188.9 L18.6 194.60000000000002 Z" fill="#111"/>
<path d="M33.4 209.8 L39.1 212.10000000000002 L33.4 214.40000000000003 Z" fill="#111"/>
<text x="16.40" y="221.20" font-size="7.7" fill="#222">CD8</text>
<text transform="translate(13.60,203.40) rotate(-90)" text-anchor="middle" font-size="7.6" fill="#222">CD3</text>
<g transform="translate(99.6,146.8)">
<g fill="#4a4a4a" opacity="0.5"><circle cx="53.3" cy="25.1" r="0.45"/><circle cx="48.2" cy="24.5" r="0.45"/><circle cx="47.8" cy="25.2" r="0.45"/><circle cx="51.9" cy="26.1" r="0.45"/><circle cx="54.3" cy="26.2" r="0.45"/><circle cx="49.1" cy="25.1" r="0.45"/><circle cx="46.3" cy="25.8" r="0.45"/><circle cx="53.9" cy="26.7" r="0.45"/><circle cx="51.5" cy="25.8" r="0.45"/><circle cx="55.6" cy="26.0" r="0.45"/><circle cx="54.8" cy="26.7" r="0.45"/><circle cx="52.7" cy="27.5" r="0.45"/><circle cx="49.7" cy="25.5" r="0.45"/><circle cx="49.1" cy="25.0" r="0.45"/><circle cx="55.8" cy="27.4" r="0.45"/><circle cx="52.1" cy="26.8" r="0.45"/><circle cx="56.0" cy="26.9" r="0.45"/><circle cx="55.7" cy="24.7" r="0.45"/><circle cx="49.5" cy="26.6" r="0.45"/><circle cx="56.8" cy="26.1" r="0.45"/><circle cx="48.7" cy="25.5" r="0.45"/><circle cx="49.6" cy="24.9" r="0.45"/><circle cx="56.7" cy="25.3" r="0.45"/><circle cx="52.1" cy="27.9" r="0.45"/><circle cx="56.2" cy="26.4" r="0.45"/></g>
<g fill="#4a4a4a" opacity="0.5"><circle cx="1.5" cy="49.1" r="0.45"/><circle cx="4.6" cy="49.7" r="0.45"/><circle cx="4.4" cy="45.9" r="0.45"/><circle cx="3.4" cy="42.9" r="0.45"/><circle cx="3.1" cy="56.1" r="0.45"/><circle cx="2.9" cy="39.2" r="0.45"/><circle cx="2.0" cy="52.7" r="0.45"/><circle cx="4.7" cy="49.2" r="0.45"/><circle cx="2.9" cy="32.6" r="0.45"/><circle cx="4.8" cy="45.5" r="0.45"/><circle cx="2.4" cy="34.8" r="0.45"/><circle cx="2.4" cy="34.9" r="0.45"/><circle cx="2.6" cy="49.8" r="0.45"/><circle cx="2.6" cy="47.9" r="0.45"/><circle cx="1.4" cy="56.2" r="0.45"/><circle cx="1.7" cy="32.0" r="0.45"/><circle cx="2.2" cy="37.5" r="0.45"/><circle cx="0.9" cy="41.7" r="0.45"/><circle cx="2.9" cy="34.5" r="0.45"/><circle cx="2.3" cy="57.0" r="0.45"/><circle cx="3.6" cy="43.5" r="0.45"/><circle cx="2.7" cy="43.7" r="0.45"/><circle cx="2.4" cy="52.3" r="0.45"/><circle cx="2.4" cy="30.4" r="0.45"/></g>
<g fill="#4a4a4a" opacity="0.5"><circle cx="21.9" cy="57.4" r="0.45"/><circle cx="23.7" cy="57.6" r="0.45"/><circle cx="19.7" cy="57.4" r="0.45"/><circle cx="20.0" cy="57.1" r="0.45"/><circle cx="18.4" cy="58.2" r="0.45"/><circle cx="20.8" cy="57.1" r="0.45"/><circle cx="18.9" cy="58.3" r="0.45"/></g>
<g clip-path="url(#pc)"><g filter="url(#jet)">
<path d="M4.7 25.0 L6.4 23.2 L10.4 22.7 L20.4 23.7 L24.4 24.7 L30.4 23.2 L38.4 21.7 L42.4 23.2 L45.4 25.2 L46.9 26.2 L43.4 29.2 L41.4 33.2 L40.3 40.0 L40.3 58.5 L27.0 58.5 L25.0 54.5 L22.0 54.5 L21.0 58.5 L4.7 58.5 L4.5 40.0 Z" fill="#fff" fill-opacity="0.22"/>
<ellipse cx="13.5" cy="42" rx="8" ry="16" fill="url(#h)" opacity="0.16"/>
<ellipse cx="33.5" cy="42" rx="7" ry="16" fill="url(#h)" opacity="0.16"/>
<ellipse cx="33.4" cy="28.2" rx="8.5" ry="4.8" fill="url(#h)" opacity="0.42"/>
<ellipse cx="37.4" cy="25.7" rx="3.0" ry="2.4" fill="url(#g)" opacity="1.0"/>
<ellipse cx="13.4" cy="27.2" rx="7" ry="3.5" fill="url(#g)" opacity="0.28"/>
<ellipse cx="13.8" cy="41.1" rx="4.5" ry="7" fill="url(#h)" opacity="0.3"/>
<ellipse cx="34" cy="41.1" rx="4" ry="6.5" fill="url(#h)" opacity="0.3"/>
</g></g>
<rect x="23.0" y="15.2" width="23.799999999999997" height="19.099999999999998" fill="none" stroke="#a39c90" stroke-width="0.55"/>
<text x="33.6" y="11.35" font-size="7.6" text-anchor="middle" fill="#222">65</text>
</g>
<path d="M99.6 146.8 H158.89999999999998" stroke="#d2d2d2" stroke-width="0.9" fill="none"/>
<path d="M158.89999999999998 146.8 V205.8" stroke="#a4a4a4" stroke-width="0.8" fill="none"/>
<path d="M99.6 146.8 V205.8" stroke="#a4a4a4" stroke-width="0.8" fill="none"/>
<path d="M99.19999999999999 205.8 H159.29999999999998" stroke="#8e8e8e" stroke-width="0.85" fill="none"/>
<path d="M93.39999999999999 193.8 V212.10000000000002 H111.19999999999999" fill="none" stroke="#111" stroke-width="1.2"/>
<path d="M91.1 194.60000000000002 L93.39999999999999 188.9 L95.69999999999999 194.60000000000002 Z" fill="#111"/>
<path d="M110.5 209.8 L116.19999999999999 212.10000000000002 L110.5 214.40000000000003 Z" fill="#111"/>
<text x="90.10" y="221.20" font-size="7.7" fill="#222">CD45RA</text>
<text transform="translate(90.70,203.40) rotate(-90)" text-anchor="middle" font-size="7.6" fill="#222">CD62L</text>
<g transform="translate(176.3,146.8)">
<g fill="#4a4a4a" opacity="0.5"><circle cx="23.0" cy="22.5" r="0.45"/><circle cx="27.1" cy="24.5" r="0.45"/><circle cx="31.1" cy="23.9" r="0.45"/><circle cx="26.6" cy="23.3" r="0.45"/><circle cx="30.5" cy="24.2" r="0.45"/><circle cx="24.7" cy="23.6" r="0.45"/><circle cx="27.2" cy="23.1" r="0.45"/><circle cx="24.3" cy="21.5" r="0.45"/><circle cx="24.3" cy="21.4" r="0.45"/><circle cx="30.2" cy="23.6" r="0.45"/><circle cx="22.5" cy="24.4" r="0.45"/><circle cx="28.4" cy="21.3" r="0.45"/><circle cx="31.1" cy="23.8" r="0.45"/><circle cx="31.0" cy="22.0" r="0.45"/><circle cx="28.1" cy="23.6" r="0.45"/></g>
<g fill="#4a4a4a" opacity="0.5"><circle cx="23.4" cy="57.6" r="0.45"/><circle cx="27.2" cy="56.8" r="0.45"/><circle cx="16.0" cy="56.8" r="0.45"/><circle cx="18.4" cy="57.1" r="0.45"/><circle cx="24.5" cy="57.7" r="0.45"/><circle cx="22.2" cy="57.0" r="0.45"/><circle cx="19.3" cy="58.1" r="0.45"/><circle cx="27.0" cy="57.6" r="0.45"/><circle cx="20.3" cy="58.3" r="0.45"/><circle cx="18.2" cy="57.9" r="0.45"/><circle cx="28.9" cy="57.3" r="0.45"/><circle cx="26.7" cy="56.9" r="0.45"/></g>
<g clip-path="url(#pc)"><g filter="url(#jet)">
<path d="M1.2 20.2 L3.7 19.2 L13.7 19.2 L18.7 21.2 L21.7 23.7 L23.7 25.7 L33.7 25.7 L36.7 27.7 L37.7 33.2 L37.7 51.2 L33.7 54.7 L23.7 55.2 L13.7 56.7 L4.7 55.2 L2.2 51.2 L2.2 33.2 L0.2 29.2 L0.2 23.2 Z" fill="#fff" fill-opacity="0.2"/>
<ellipse cx="11" cy="24.5" rx="10.5" ry="5.8" fill="url(#h)" opacity="0.5"/>
<ellipse cx="11.2" cy="23.9" rx="5" ry="2.2" fill="url(#g)" opacity="1.0"/>
<ellipse cx="10" cy="34" rx="6" ry="4" fill="url(#g)" opacity="0.3"/>
<ellipse cx="11.7" cy="45.9" rx="6.2" ry="5.8" fill="url(#h)" opacity="0.42"/>
<ellipse cx="33.3" cy="39" rx="4" ry="12" fill="url(#g)" opacity="0.2"/>
<ellipse cx="33.4" cy="32.4" rx="3.5" ry="5" fill="url(#h)" opacity="0.3"/>
<ellipse cx="33.2" cy="44.9" rx="4" ry="6" fill="url(#h)" opacity="0.4"/>
<ellipse cx="24" cy="47" rx="6" ry="4" fill="url(#g)" opacity="0.25"/>
</g></g>
<rect x="-0.5" y="15.2" width="21.9" height="24.599999999999998" fill="none" stroke="#a39c90" stroke-width="0.55"/>
<text x="11.8" y="11.35" font-size="7.6" text-anchor="middle" fill="#222">65</text>
</g>
<path d="M176.3 146.8 H235.60000000000002" stroke="#d2d2d2" stroke-width="0.9" fill="none"/>
<path d="M235.60000000000002 146.8 V205.8" stroke="#a4a4a4" stroke-width="0.8" fill="none"/>
<path d="M176.3 146.8 V205.8" stroke="#a4a4a4" stroke-width="0.8" fill="none"/>
<path d="M175.9 205.8 H236.00000000000003" stroke="#8e8e8e" stroke-width="0.85" fill="none"/>
<path d="M170.10000000000002 193.8 V212.10000000000002 H187.9" fill="none" stroke="#111" stroke-width="1.2"/>
<path d="M167.8 194.60000000000002 L170.10000000000002 188.9 L172.40000000000003 194.60000000000002 Z" fill="#111"/>
<path d="M187.20000000000002 209.8 L192.9 212.10000000000002 L187.20000000000002 214.40000000000003 Z" fill="#111"/>
<text x="165.60" y="221.20" font-size="7.7" fill="#222">CD45RO</text>
<text transform="translate(167.40,203.40) rotate(-90)" text-anchor="middle" font-size="7.6" fill="#222">CCR7</text>
<g transform="translate(298.1,146.8)">
<g fill="#4a4a4a" opacity="0.5"><circle cx="46.3" cy="46.0" r="0.45"/><circle cx="31.9" cy="47.7" r="0.45"/><circle cx="35.2" cy="50.5" r="0.45"/><circle cx="35.5" cy="44.1" r="0.45"/><circle cx="42.0" cy="43.2" r="0.45"/><circle cx="41.8" cy="42.0" r="0.45"/><circle cx="44.5" cy="45.0" r="0.45"/><circle cx="40.8" cy="37.1" r="0.45"/><circle cx="47.0" cy="45.2" r="0.45"/><circle cx="31.1" cy="45.4" r="0.45"/><circle cx="42.8" cy="50.2" r="0.45"/><circle cx="34.8" cy="51.0" r="0.45"/><circle cx="39.4" cy="52.8" r="0.45"/><circle cx="39.0" cy="48.6" r="0.45"/><circle cx="37.8" cy="39.6" r="0.45"/><circle cx="46.1" cy="49.1" r="0.45"/><circle cx="47.8" cy="48.5" r="0.45"/><circle cx="37.1" cy="38.3" r="0.45"/><circle cx="35.9" cy="41.6" r="0.45"/><circle cx="34.9" cy="47.9" r="0.45"/><circle cx="42.3" cy="43.5" r="0.45"/><circle cx="41.2" cy="44.2" r="0.45"/><circle cx="41.4" cy="48.9" r="0.45"/><circle cx="45.8" cy="41.7" r="0.45"/><circle cx="33.2" cy="50.2" r="0.45"/></g>
<g fill="#4a4a4a" opacity="0.5"><circle cx="6.3" cy="38.0" r="0.45"/><circle cx="2.6" cy="35.5" r="0.45"/><circle cx="6.1" cy="33.6" r="0.45"/><circle cx="4.7" cy="37.4" r="0.45"/><circle cx="8.1" cy="38.3" r="0.45"/><circle cx="4.2" cy="33.8" r="0.45"/><circle cx="7.3" cy="37.7" r="0.45"/><circle cx="6.4" cy="33.7" r="0.45"/><circle cx="7.9" cy="37.5" r="0.45"/><circle cx="7.5" cy="35.0" r="0.45"/><circle cx="6.8" cy="37.5" r="0.45"/><circle cx="4.9" cy="33.4" r="0.45"/></g>
<g clip-path="url(#pc)"><g filter="url(#jet)">
<path d="M3.9 29.2 L7.9 23.2 L16.9 19.7 L29.9 18.7 L38.9 20.2 L42.9 24.2 L43.9 30.2 L39.9 34.2 L29.9 35.7 L19.9 35.2 L12.9 34.7 L6.9 33.2 L3.9 31.2 Z" fill="#fff" fill-opacity="0.2"/>
<ellipse cx="19" cy="24" rx="9" ry="3" fill="url(#h)" opacity="0.42" transform="rotate(-10 19 24)"/>
<ellipse cx="33.5" cy="28.5" rx="8.5" ry="5" fill="url(#h)" opacity="0.48"/>
<ellipse cx="37.1" cy="27.7" rx="2.6" ry="1.8" fill="url(#g)" opacity="0.9"/>
<path d="M13.5 34.0 L16.5 34.0 L16.5 39.0 L13.5 39.0 Z" fill="#fff" fill-opacity="0.2"/>
<path d="M23.5 34.0 L30.0 34.0 L30.0 39.0 L23.5 39.0 Z" fill="#fff" fill-opacity="0.2"/>
<path d="M1.9 53.2 L3.9 47.2 L9.9 42.2 L14.9 39.7 L19.9 38.2 L26.9 37.2 L30.9 40.2 L31.9 48.2 L32.9 58.2 L1.9 58.7 Z" fill="#fff" fill-opacity="0.22"/>
<ellipse cx="18" cy="49" rx="11" ry="6" fill="url(#g)" opacity="0.28" transform="rotate(-20 18 49)"/>
<ellipse cx="21" cy="46" rx="5" ry="3" fill="url(#g)" opacity="0.2" transform="rotate(-20 21 46)"/>
</g></g>
<path d="M22.0 19.5 L41.0 19.2 L44.5 23.0 L45.0 31.0 L42.0 36.5 L27.0 37.2 L21.0 34.0 Z" fill="none" stroke="#c4c0b8" stroke-width="0.55" stroke-linejoin="round"/>
<text x="36.2" y="15.15" font-size="7.6" text-anchor="middle" fill="#222">61</text>
</g>
<path d="M298.1 146.8 H357.40000000000003" stroke="#d2d2d2" stroke-width="0.9" fill="none"/>
<path d="M357.40000000000003 146.8 V205.8" stroke="#a4a4a4" stroke-width="0.8" fill="none"/>
<path d="M298.1 146.8 V205.8" stroke="#a4a4a4" stroke-width="0.8" fill="none"/>
<path d="M297.70000000000005 205.8 H357.8" stroke="#8e8e8e" stroke-width="0.85" fill="none"/>
<path d="M291.90000000000003 193.8 V212.10000000000002 H309.70000000000005" fill="none" stroke="#111" stroke-width="1.2"/>
<path d="M289.6 194.60000000000002 L291.90000000000003 188.9 L294.20000000000005 194.60000000000002 Z" fill="#111"/>
<path d="M309.0 209.8 L314.70000000000005 212.10000000000002 L309.0 214.40000000000003 Z" fill="#111"/>
<text x="292.00" y="221.20" font-size="7.7" fill="#222">CD8</text>
<text transform="translate(289.20,203.40) rotate(-90)" text-anchor="middle" font-size="7.6" fill="#222">CD3</text>
<g transform="translate(375.6,146.8)">
<g fill="#4a4a4a" opacity="0.5"><circle cx="48.1" cy="38.0" r="0.45"/><circle cx="47.0" cy="39.4" r="0.45"/><circle cx="45.0" cy="35.7" r="0.45"/><circle cx="46.0" cy="38.3" r="0.45"/><circle cx="51.2" cy="35.2" r="0.45"/><circle cx="50.9" cy="39.5" r="0.45"/><circle cx="49.5" cy="38.2" r="0.45"/><circle cx="51.4" cy="35.5" r="0.45"/><circle cx="46.7" cy="32.1" r="0.45"/><circle cx="48.3" cy="40.5" r="0.45"/><circle cx="48.8" cy="37.7" r="0.45"/><circle cx="46.3" cy="36.7" r="0.45"/></g>
<g fill="#4a4a4a" opacity="0.5"><circle cx="9.3" cy="58.0" r="0.45"/><circle cx="16.3" cy="56.8" r="0.45"/><circle cx="13.1" cy="57.0" r="0.45"/><circle cx="27.3" cy="58.1" r="0.45"/><circle cx="9.3" cy="58.0" r="0.45"/><circle cx="28.2" cy="57.1" r="0.45"/><circle cx="8.4" cy="57.1" r="0.45"/><circle cx="13.7" cy="57.7" r="0.45"/><circle cx="17.6" cy="56.6" r="0.45"/><circle cx="21.9" cy="56.7" r="0.45"/></g>
<g clip-path="url(#pc)"><g filter="url(#jet)">
<path d="M0.8 43.2 L2.4 36.2 L9.4 33.7 L19.4 32.7 L24.4 32.2 L29.4 30.2 L34.4 28.7 L37.4 29.2 L42.4 32.2 L44.4 33.7 L42.4 39.2 L40.4 46.2 L37.4 51.2 L29.4 54.2 L19.4 55.2 L9.4 54.2 L3.4 52.2 L0.9 48.2 Z" fill="#fff" fill-opacity="0.2"/>
<ellipse cx="13.9" cy="43.7" rx="10" ry="8.5" fill="url(#h)" opacity="0.55"/>
<ellipse cx="13.6" cy="43.2" rx="4" ry="3.2" fill="url(#g)" opacity="0.6"/>
<ellipse cx="23.5" cy="43" rx="5" ry="4" fill="url(#g)" opacity="0.42"/>
<ellipse cx="32.6" cy="42.4" rx="6.5" ry="10" fill="url(#h)" opacity="0.55"/>
<ellipse cx="32.6" cy="42.4" rx="3.6" ry="6.2" fill="url(#g)" opacity="0.85"/>
<ellipse cx="32.6" cy="42.4" rx="2.4" ry="4.4" fill="url(#g)" opacity="0.95"/>
</g></g>
<rect x="23.6" y="15.0" width="21.6" height="18.5" fill="none" stroke="#a39c90" stroke-width="0.55"/>
<text x="34.5" y="10.25" font-size="7.6" text-anchor="middle" fill="#222">5.3</text>
</g>
<path d="M375.6 146.8 H434.90000000000003" stroke="#d2d2d2" stroke-width="0.9" fill="none"/>
<path d="M434.90000000000003 146.8 V205.8" stroke="#a4a4a4" stroke-width="0.8" fill="none"/>
<path d="M375.6 146.8 V205.8" stroke="#a4a4a4" stroke-width="0.8" fill="none"/>
<path d="M375.20000000000005 205.8 H435.3" stroke="#8e8e8e" stroke-width="0.85" fill="none"/>
<path d="M369.40000000000003 193.8 V212.10000000000002 H387.20000000000005" fill="none" stroke="#111" stroke-width="1.2"/>
<path d="M367.1 194.60000000000002 L369.40000000000003 188.9 L371.70000000000005 194.60000000000002 Z" fill="#111"/>
<path d="M386.5 209.8 L392.20000000000005 212.10000000000002 L386.5 214.40000000000003 Z" fill="#111"/>
<text x="366.10" y="221.20" font-size="7.7" fill="#222">CD45RA</text>
<text transform="translate(366.70,203.40) rotate(-90)" text-anchor="middle" font-size="7.6" fill="#222">CD62L</text>
<g transform="translate(452.1,146.8)">
<g fill="#4a4a4a" opacity="0.5"><circle cx="4.5" cy="37.0" r="0.45"/><circle cx="1.7" cy="37.4" r="0.45"/><circle cx="2.1" cy="41.2" r="0.45"/><circle cx="4.6" cy="40.1" r="0.45"/><circle cx="3.5" cy="36.5" r="0.45"/><circle cx="2.0" cy="37.9" r="0.45"/><circle cx="1.2" cy="39.9" r="0.45"/><circle cx="1.6" cy="37.7" r="0.45"/><circle cx="1.7" cy="36.4" r="0.45"/><circle cx="4.0" cy="41.2" r="0.45"/></g>
<g clip-path="url(#pc)"><g filter="url(#jet)">
<path d="M2.9 25.2 L4.9 22.7 L12.9 21.2 L19.9 22.2 L25.9 24.7 L31.9 27.2 L34.9 28.2 L36.9 33.2 L36.9 53.2 L33.9 58.7 L-0.5 58.7 L-0.5 45.2 L3.9 42.2 L8.9 39.2 L17.9 37.7 L23.9 36.7 L17.9 35.4 L7.9 35.4 L3.9 32.2 Z" fill="#fff" fill-opacity="0.2"/>
<ellipse cx="14.3" cy="28.3" rx="10" ry="4.2" fill="url(#h)" opacity="0.42"/>
<ellipse cx="26" cy="31" rx="5" ry="3.5" fill="url(#g)" opacity="0.25"/>
<ellipse cx="17" cy="45.5" rx="15" ry="6.8" fill="url(#h)" opacity="0.5" transform="rotate(-15 17 45.5)"/>
<ellipse cx="15.8" cy="45.4" rx="8.5" ry="3.2" fill="url(#g)" opacity="0.72" transform="rotate(-15 15.8 45.4)"/>
<ellipse cx="15.8" cy="45.4" rx="6" ry="2.1" fill="url(#g)" opacity="0.95" transform="rotate(-15 15.8 45.4)"/>
<ellipse cx="32.8" cy="42" rx="4" ry="13" fill="url(#h)" opacity="0.45"/>
<ellipse cx="32.6" cy="44" rx="2.3" ry="3.6" fill="url(#g)" opacity="0.95"/>
</g></g>
<rect x="-0.5" y="12.7" width="25.0" height="20.7" fill="none" stroke="#a39c90" stroke-width="0.55"/>
<text x="11.8" y="8.35" font-size="7.6" text-anchor="middle" fill="#222">14</text>
</g>
<path d="M452.1 146.8 H511.40000000000003" stroke="#d2d2d2" stroke-width="0.9" fill="none"/>
<path d="M511.40000000000003 146.8 V205.8" stroke="#a4a4a4" stroke-width="0.8" fill="none"/>
<path d="M452.1 146.8 V205.8" stroke="#a4a4a4" stroke-width="0.8" fill="none"/>
<path d="M451.70000000000005 205.8 H511.8" stroke="#8e8e8e" stroke-width="0.85" fill="none"/>
<path d="M445.90000000000003 193.8 V212.10000000000002 H463.70000000000005" fill="none" stroke="#111" stroke-width="1.2"/>
<path d="M443.6 194.60000000000002 L445.90000000000003 188.9 L448.20000000000005 194.60000000000002 Z" fill="#111"/>
<path d="M463.0 209.8 L468.70000000000005 212.10000000000002 L463.0 214.40000000000003 Z" fill="#111"/>
<text x="441.40" y="221.20" font-size="7.7" fill="#222">CD45RO</text>
<text transform="translate(443.20,203.40) rotate(-90)" text-anchor="middle" font-size="7.6" fill="#222">CCR7</text>
<g transform="translate(22.5,254.6)">
<g fill="#4a4a4a" opacity="0.5"><circle cx="21.1" cy="36.3" r="0.45"/><circle cx="10.1" cy="40.4" r="0.45"/><circle cx="27.2" cy="41.0" r="0.45"/><circle cx="24.7" cy="44.5" r="0.45"/><circle cx="26.7" cy="38.4" r="0.45"/><circle cx="26.1" cy="42.7" r="0.45"/><circle cx="11.8" cy="38.7" r="0.45"/><circle cx="12.0" cy="39.6" r="0.45"/><circle cx="23.4" cy="36.2" r="0.45"/><circle cx="11.8" cy="43.1" r="0.45"/><circle cx="22.1" cy="44.8" r="0.45"/><circle cx="13.2" cy="43.3" r="0.45"/><circle cx="27.1" cy="44.1" r="0.45"/><circle cx="18.5" cy="41.1" r="0.45"/><circle cx="19.0" cy="43.7" r="0.45"/><circle cx="26.4" cy="40.3" r="0.45"/><circle cx="12.7" cy="42.4" r="0.45"/><circle cx="16.9" cy="42.5" r="0.45"/><circle cx="21.4" cy="45.1" r="0.45"/><circle cx="26.7" cy="38.4" r="0.45"/><circle cx="21.7" cy="45.3" r="0.45"/><circle cx="16.4" cy="41.7" r="0.45"/><circle cx="26.1" cy="43.8" r="0.45"/><circle cx="22.9" cy="35.6" r="0.45"/><circle cx="12.6" cy="40.9" r="0.45"/><circle cx="21.5" cy="45.8" r="0.45"/><circle cx="15.2" cy="43.8" r="0.45"/><circle cx="23.8" cy="35.1" r="0.45"/><circle cx="14.7" cy="40.6" r="0.45"/><circle cx="16.6" cy="39.4" r="0.45"/></g>
<g fill="#4a4a4a" opacity="0.5"><circle cx="42.4" cy="43.9" r="0.45"/><circle cx="42.4" cy="44.7" r="0.45"/><circle cx="37.1" cy="50.8" r="0.45"/><circle cx="36.9" cy="49.5" r="0.45"/><circle cx="46.8" cy="48.1" r="0.45"/><circle cx="39.2" cy="51.9" r="0.45"/><circle cx="38.2" cy="53.2" r="0.45"/><circle cx="34.2" cy="50.8" r="0.45"/><circle cx="37.4" cy="43.9" r="0.45"/><circle cx="46.7" cy="44.8" r="0.45"/><circle cx="46.8" cy="50.6" r="0.45"/><circle cx="45.9" cy="44.0" r="0.45"/><circle cx="44.6" cy="53.6" r="0.45"/><circle cx="39.3" cy="47.3" r="0.45"/><circle cx="47.8" cy="48.6" r="0.45"/><circle cx="37.8" cy="44.7" r="0.45"/><circle cx="42.4" cy="49.8" r="0.45"/><circle cx="40.7" cy="55.0" r="0.45"/><circle cx="38.2" cy="50.6" r="0.45"/><circle cx="45.9" cy="44.0" r="0.45"/><circle cx="43.7" cy="54.6" r="0.45"/><circle cx="34.5" cy="43.5" r="0.45"/><circle cx="36.3" cy="41.4" r="0.45"/><circle cx="41.7" cy="40.9" r="0.45"/><circle cx="42.2" cy="54.3" r="0.45"/></g>
<g fill="#4a4a4a" opacity="0.5"><circle cx="1.8" cy="49.0" r="0.45"/><circle cx="1.6" cy="52.1" r="0.45"/><circle cx="3.6" cy="49.0" r="0.45"/><circle cx="6.2" cy="52.2" r="0.45"/><circle cx="4.8" cy="50.1" r="0.45"/><circle cx="4.1" cy="50.5" r="0.45"/><circle cx="2.5" cy="50.2" r="0.45"/><circle cx="1.5" cy="48.6" r="0.45"/><circle cx="10.6" cy="50.2" r="0.45"/><circle cx="2.3" cy="50.9" r="0.45"/><circle cx="3.7" cy="45.3" r="0.45"/><circle cx="3.7" cy="52.7" r="0.45"/></g>
<g clip-path="url(#pc)"><g filter="url(#jet)">
<path d="M0.7 26.1 L4.5 23.9 L10.5 22.4 L19.5 21.7 L27.5 21.5 L33.0 21.8 L38.0 22.3 L41.5 24.0 L42.8 27.5 L41.5 32.0 L38.0 35.5 L33.0 36.5 L28.5 35.0 L24.5 33.0 L20.5 32.4 L13.5 31.4 L7.5 29.4 L2.5 27.4 Z" fill="#fff" fill-opacity="0.2"/>
<ellipse cx="13" cy="27" rx="9" ry="2.8" fill="url(#g)" opacity="0.14" transform="rotate(-5 13 27)"/>
<ellipse cx="35.2" cy="28.4" rx="6" ry="5" fill="url(#h)" opacity="0.36"/>
<ellipse cx="35.3" cy="28.3" rx="2.0" ry="1.8" fill="url(#g)" opacity="0.62"/>
<path d="M18.5 32.4 L25.5 33.4 L28.5 37.4 L28.0 45.4 L24.5 50.4 L18.5 51.9 L10.5 53.9 L7.0 52.4 L8.0 48.4 L11.0 44.4 L14.5 39.4 L17.0 35.4 Z" fill="#fff" fill-opacity="0.2"/>
<ellipse cx="21.5" cy="42" rx="3" ry="5" fill="url(#g)" opacity="0.14" transform="rotate(30 21.5 42)"/>
<ellipse cx="14.3" cy="44.2" rx="0.8" ry="0.8" fill="#fff" fill-opacity="0"/>
</g></g>
<path d="M29.6 20.6 L42.6 20.6 L45.3 23.4 L45.3 32.6 L41.9 36.9 L30.9 37.5 L26.6 35.1 L25.9 24.0 Z" fill="none" stroke="#a39c90" stroke-width="0.55" stroke-linejoin="round"/>
<text x="37.0" y="15.65" font-size="7.6" text-anchor="middle" fill="#222">86</text>
</g>
<path d="M22.5 254.6 H81.8" stroke="#d2d2d2" stroke-width="0.9" fill="none"/>
<path d="M81.8 254.6 V313.6" stroke="#a4a4a4" stroke-width="0.8" fill="none"/>
<path d="M22.5 254.6 V313.6" stroke="#a4a4a4" stroke-width="0.8" fill="none"/>
<path d="M22.1 313.6 H82.2" stroke="#8e8e8e" stroke-width="0.85" fill="none"/>
<path d="M16.3 301.6 V319.90000000000003 H34.1" fill="none" stroke="#111" stroke-width="1.2"/>
<path d="M14.0 302.40000000000003 L16.3 296.70000000000005 L18.6 302.40000000000003 Z" fill="#111"/>
<path d="M33.4 317.6 L39.1 319.90000000000003 L33.4 322.20000000000005 Z" fill="#111"/>
<text x="16.40" y="329.00" font-size="7.7" fill="#222">CD8</text>
<text transform="translate(13.60,311.20) rotate(-90)" text-anchor="middle" font-size="7.6" fill="#222">CD3</text>
<g transform="translate(99.6,254.6)">
<g fill="#4a4a4a" opacity="0.5"><circle cx="23.2" cy="53.8" r="0.45"/><circle cx="13.8" cy="52.2" r="0.45"/><circle cx="29.2" cy="54.4" r="0.45"/><circle cx="15.2" cy="51.4" r="0.45"/><circle cx="14.2" cy="56.6" r="0.45"/><circle cx="11.7" cy="53.9" r="0.45"/><circle cx="21.8" cy="53.7" r="0.45"/><circle cx="18.1" cy="51.7" r="0.45"/><circle cx="14.1" cy="56.4" r="0.45"/><circle cx="14.5" cy="55.5" r="0.45"/><circle cx="9.6" cy="53.6" r="0.45"/><circle cx="21.9" cy="55.9" r="0.45"/><circle cx="12.1" cy="55.0" r="0.45"/><circle cx="23.0" cy="52.6" r="0.45"/><circle cx="23.6" cy="52.3" r="0.45"/><circle cx="13.7" cy="54.0" r="0.45"/><circle cx="8.2" cy="53.9" r="0.45"/><circle cx="14.0" cy="51.8" r="0.45"/><circle cx="16.7" cy="55.5" r="0.45"/><circle cx="17.2" cy="56.2" r="0.45"/><circle cx="13.0" cy="52.0" r="0.45"/><circle cx="29.9" cy="54.6" r="0.45"/><circle cx="26.7" cy="52.5" r="0.45"/><circle cx="26.3" cy="54.5" r="0.45"/><circle cx="25.2" cy="54.1" r="0.45"/></g>
<g fill="#4a4a4a" opacity="0.5"><circle cx="8.7" cy="25.3" r="0.45"/><circle cx="4.1" cy="24.5" r="0.45"/><circle cx="8.6" cy="25.2" r="0.45"/><circle cx="3.6" cy="24.9" r="0.45"/><circle cx="5.0" cy="24.5" r="0.45"/><circle cx="5.2" cy="25.2" r="0.45"/><circle cx="4.7" cy="24.8" r="0.45"/><circle cx="6.1" cy="25.4" r="0.45"/></g>
<g clip-path="url(#pc)"><g filter="url(#jet)">
<path d="M3.7 28.4 L4.4 26.4 L10.4 26.9 L18.4 27.4 L25.4 26.4 L30.4 24.9 L36.4 24.4 L39.4 24.9 L40.4 28.4 L39.4 35.4 L36.4 43.4 L33.4 49.4 L31.4 51.4 L28.4 50.4 L26.4 47.4 L22.4 49.4 L17.4 52.4 L12.4 54.4 L8.4 52.4 L5.4 45.4 L4.4 35.4 Z" fill="#fff" fill-opacity="0.21"/>
<ellipse cx="33.4" cy="35.5" rx="6.5" ry="10" fill="url(#h)" opacity="0.4"/>
<ellipse cx="35.4" cy="31.6" rx="3.0" ry="3.0" fill="url(#g)" opacity="0.8"/>
<ellipse cx="35.6" cy="31.4" rx="1.8" ry="1.9" fill="url(#g)" opacity="1.0"/>
<ellipse cx="15.4" cy="38.3" rx="5.5" ry="7.5" fill="url(#g)" opacity="0.28"/>
<ellipse cx="32" cy="43" rx="4" ry="4" fill="url(#g)" opacity="0.2"/>
</g></g>
<rect x="24.0" y="15.4" width="21.9" height="20.9" fill="none" stroke="#a39c90" stroke-width="0.55"/>
<text x="33.8" y="10.95" font-size="7.6" text-anchor="middle" fill="#222">68</text>
</g>
<path d="M99.6 254.6 H158.89999999999998" stroke="#d2d2d2" stroke-width="0.9" fill="none"/>
<path d="M158.89999999999998 254.6 V313.6" stroke="#a4a4a4" stroke-width="0.8" fill="none"/>
<path d="M99.6 254.6 V313.6" stroke="#a4a4a4" stroke-width="0.8" fill="none"/>
<path d="M99.19999999999999 313.6 H159.29999999999998" stroke="#8e8e8e" stroke-width="0.85" fill="none"/>
<path d="M93.39999999999999 301.6 V319.90000000000003 H111.19999999999999" fill="none" stroke="#111" stroke-width="1.2"/>
<path d="M91.1 302.40000000000003 L93.39999999999999 296.70000000000005 L95.69999999999999 302.40000000000003 Z" fill="#111"/>
<path d="M110.5 317.6 L116.19999999999999 319.90000000000003 L110.5 322.20000000000005 Z" fill="#111"/>
<text x="90.10" y="329.00" font-size="7.7" fill="#222">CD45RA</text>
<text transform="translate(90.70,311.20) rotate(-90)" text-anchor="middle" font-size="7.6" fill="#222">CD62L</text>
<g transform="translate(176.3,254.6)">
<g fill="#4a4a4a" opacity="0.5"><circle cx="19.1" cy="55.4" r="0.45"/><circle cx="20.1" cy="52.6" r="0.45"/><circle cx="13.3" cy="53.7" r="0.45"/><circle cx="23.5" cy="53.0" r="0.45"/><circle cx="11.4" cy="54.5" r="0.45"/><circle cx="15.1" cy="56.5" r="0.45"/><circle cx="14.2" cy="56.5" r="0.45"/><circle cx="9.5" cy="53.1" r="0.45"/><circle cx="27.9" cy="55.6" r="0.45"/><circle cx="22.7" cy="55.2" r="0.45"/><circle cx="21.9" cy="53.2" r="0.45"/><circle cx="26.2" cy="54.2" r="0.45"/><circle cx="26.7" cy="55.1" r="0.45"/><circle cx="6.6" cy="53.7" r="0.45"/><circle cx="27.6" cy="54.8" r="0.45"/><circle cx="14.2" cy="55.4" r="0.45"/><circle cx="14.0" cy="54.1" r="0.45"/><circle cx="19.0" cy="55.3" r="0.45"/><circle cx="29.6" cy="55.1" r="0.45"/><circle cx="27.9" cy="56.7" r="0.45"/><circle cx="29.1" cy="56.2" r="0.45"/><circle cx="19.3" cy="55.2" r="0.45"/><circle cx="16.7" cy="53.8" r="0.45"/><circle cx="17.4" cy="53.9" r="0.45"/><circle cx="29.7" cy="55.7" r="0.45"/><circle cx="15.1" cy="52.7" r="0.45"/><circle cx="17.5" cy="54.3" r="0.45"/><circle cx="9.9" cy="53.5" r="0.45"/><circle cx="4.9" cy="55.6" r="0.45"/><circle cx="17.7" cy="57.5" r="0.45"/><circle cx="17.7" cy="54.7" r="0.45"/><circle cx="29.2" cy="55.2" r="0.45"/><circle cx="19.6" cy="54.4" r="0.45"/><circle cx="13.5" cy="57.0" r="0.45"/><circle cx="24.5" cy="57.0" r="0.45"/></g>
<g clip-path="url(#pc)"><g filter="url(#jet)">
<path d="M0.7 21.4 L3.7 19.4 L13.7 18.9 L20.7 19.9 L24.7 22.4 L26.7 26.4 L30.7 27.4 L34.7 29.4 L36.2 33.4 L35.7 45.4 L34.7 51.4 L28.7 51.4 L23.7 49.9 L13.7 50.9 L6.7 50.4 L3.2 45.4 L2.7 37.4 L3.7 34.4 L0.7 32.4 Z" fill="#fff" fill-opacity="0.21"/>
<ellipse cx="12.2" cy="25.4" rx="11.5" ry="6.0" fill="url(#h)" opacity="0.55"/>
<ellipse cx="12.2" cy="25.1" rx="7.5" ry="2.9" fill="url(#g)" opacity="0.78"/>
<ellipse cx="12.4" cy="25.0" rx="5.2" ry="1.7" fill="url(#g)" opacity="1.0"/>
<ellipse cx="12.7" cy="40" rx="11" ry="6.5" fill="url(#h)" opacity="0.4"/>
<ellipse cx="31" cy="35" rx="4" ry="8" fill="url(#g)" opacity="0.14"/>
<ellipse cx="29" cy="46" rx="4" ry="3" fill="url(#g)" opacity="0.12"/>
</g></g>
<rect x="-0.5" y="12.7" width="26.0" height="20.500000000000004" fill="none" stroke="#a39c90" stroke-width="0.55"/>
<text x="11.6" y="10.15" font-size="7.6" text-anchor="middle" fill="#222">63</text>
</g>
<path d="M176.3 254.6 H235.60000000000002" stroke="#d2d2d2" stroke-width="0.9" fill="none"/>
<path d="M235.60000000000002 254.6 V313.6" stroke="#a4a4a4" stroke-width="0.8" fill="none"/>
<path d="M176.3 254.6 V313.6" stroke="#a4a4a4" stroke-width="0.8" fill="none"/>
<path d="M175.9 313.6 H236.00000000000003" stroke="#8e8e8e" stroke-width="0.85" fill="none"/>
<path d="M170.10000000000002 301.6 V319.90000000000003 H187.9" fill="none" stroke="#111" stroke-width="1.2"/>
<path d="M167.8 302.40000000000003 L170.10000000000002 296.70000000000005 L172.40000000000003 302.40000000000003 Z" fill="#111"/>
<path d="M187.20000000000002 317.6 L192.9 319.90000000000003 L187.20000000000002 322.20000000000005 Z" fill="#111"/>
<text x="165.60" y="329.00" font-size="7.7" fill="#222">CD45RO</text>
<text transform="translate(167.40,311.20) rotate(-90)" text-anchor="middle" font-size="7.6" fill="#222">CCR7</text>
<g transform="translate(298.1,254.6)">
<g fill="#4a4a4a" opacity="0.3"><circle cx="8.1" cy="45.2" r="0.45"/><circle cx="5.9" cy="49.5" r="0.45"/><circle cx="3.9" cy="47.5" r="0.45"/><circle cx="14.4" cy="50.6" r="0.45"/><circle cx="5.8" cy="49.9" r="0.45"/><circle cx="6.5" cy="41.2" r="0.45"/><circle cx="4.7" cy="49.7" r="0.45"/><circle cx="16.7" cy="42.6" r="0.45"/><circle cx="6.0" cy="43.2" r="0.45"/><circle cx="17.3" cy="47.9" r="0.45"/><circle cx="7.9" cy="38.0" r="0.45"/><circle cx="6.9" cy="50.4" r="0.45"/></g>
<g fill="#4a4a4a" opacity="0.3"><circle cx="27.4" cy="51.5" r="0.45"/><circle cx="19.3" cy="50.7" r="0.45"/><circle cx="16.9" cy="53.6" r="0.45"/><circle cx="18.5" cy="54.3" r="0.45"/><circle cx="17.4" cy="49.7" r="0.45"/><circle cx="23.1" cy="50.0" r="0.45"/><circle cx="25.1" cy="52.0" r="0.45"/><circle cx="17.9" cy="53.4" r="0.45"/></g>
<g clip-path="url(#pc)"><g filter="url(#jet)">
<path d="M1.9 26.4 L6.9 23.4 L16.9 20.4 L26.9 18.9 L31.9 19.4 L38.9 22.4 L43.9 24.4 L45.4 28.4 L43.9 32.4 L39.9 34.4 L31.9 35.9 L29.9 37.4 L28.9 41.4 L23.9 43.4 L18.9 42.9 L16.9 39.4 L13.9 35.4 L9.9 33.4 L4.9 30.4 L1.9 28.4 Z" fill="#fff" fill-opacity="0.2"/>
<ellipse cx="11.9" cy="26.4" rx="6" ry="2.4" fill="url(#g)" opacity="0.25"/>
<ellipse cx="36" cy="28" rx="7" ry="5.2" fill="url(#h)" opacity="0.45"/>
<ellipse cx="36.5" cy="28" rx="3.2" ry="2.6" fill="url(#g)" opacity="0.8"/>
<ellipse cx="37.6" cy="27.9" rx="1.6" ry="1.5" fill="url(#g)" opacity="1.0"/>
<ellipse cx="24" cy="38" rx="4" ry="3" fill="url(#g)" opacity="0.12"/>
<ellipse cx="18.5" cy="33.5" rx="0.8" ry="0.8" fill="#fff" fill-opacity="0"/>
<ellipse cx="12.4" cy="45.5" rx="1.6" ry="0.5" fill="#fff" fill-opacity="0.25" transform="rotate(-30 12.4 45.5)"/>
</g></g>
<path d="M26.0 20.5 L42.0 20.5 L45.8 24.0 L45.8 33.0 L42.5 37.5 L29.0 37.8 L24.0 34.0 L23.5 24.0 Z" fill="none" stroke="#c4beb4" stroke-width="0.55" stroke-linejoin="round"/>
<text x="36.2" y="15.85" font-size="7.6" text-anchor="middle" fill="#222">82</text>
</g>
<path d="M298.1 254.6 H357.40000000000003" stroke="#d2d2d2" stroke-width="0.9" fill="none"/>
<path d="M357.40000000000003 254.6 V313.6" stroke="#a4a4a4" stroke-width="0.8" fill="none"/>
<path d="M298.1 254.6 V313.6" stroke="#a4a4a4" stroke-width="0.8" fill="none"/>
<path d="M297.70000000000005 313.6 H357.8" stroke="#8e8e8e" stroke-width="0.85" fill="none"/>
<path d="M291.90000000000003 301.6 V319.90000000000003 H309.70000000000005" fill="none" stroke="#111" stroke-width="1.2"/>
<path d="M289.6 302.40000000000003 L291.90000000000003 296.70000000000005 L294.20000000000005 302.40000000000003 Z" fill="#111"/>
<path d="M309.0 317.6 L314.70000000000005 319.90000000000003 L309.0 322.20000000000005 Z" fill="#111"/>
<text x="292.00" y="329.00" font-size="7.7" fill="#222">CD8</text>
<text transform="translate(289.20,311.20) rotate(-90)" text-anchor="middle" font-size="7.6" fill="#222">CD3</text>
<g transform="translate(375.6,254.6)">
<g fill="#4a4a4a" opacity="0.3"><circle cx="42.3" cy="36.8" r="0.45"/><circle cx="45.3" cy="43.4" r="0.45"/><circle cx="42.1" cy="36.8" r="0.45"/><circle cx="37.2" cy="40.6" r="0.45"/><circle cx="43.2" cy="37.7" r="0.45"/><circle cx="37.7" cy="36.7" r="0.45"/><circle cx="39.0" cy="43.4" r="0.45"/><circle cx="34.9" cy="40.2" r="0.45"/></g>
<g clip-path="url(#pc)"><g filter="url(#jet)">
<path d="M0.4 26.4 L4.4 24.9 L16.4 24.7 L24.4 25.4 L30.4 26.4 L35.4 28.4 L37.9 31.4 L36.4 37.4 L32.4 45.4 L26.4 50.4 L19.4 54.4 L9.4 55.9 L2.4 53.9 L0.4 49.4 Z" fill="#fff" fill-opacity="0.2"/>
<ellipse cx="12.9" cy="38" rx="12" ry="13" fill="url(#h)" opacity="0.55"/>
<ellipse cx="12.9" cy="36.8" rx="5.6" ry="6.6" fill="url(#g)" opacity="0.82"/>
<ellipse cx="12.9" cy="36.6" rx="3.2" ry="4.2" fill="url(#g)" opacity="0.98"/>
<ellipse cx="28.5" cy="32.5" rx="6" ry="4" fill="url(#g)" opacity="0.25"/>
</g></g>
<rect x="24.0" y="15.6" width="21.9" height="20.5" fill="none" stroke="#a39c90" stroke-width="0.55"/>
<text x="34.5" y="10.45" font-size="7.6" text-anchor="middle" fill="#222">7.3</text>
</g>
<path d="M375.6 254.6 H434.90000000000003" stroke="#d2d2d2" stroke-width="0.9" fill="none"/>
<path d="M434.90000000000003 254.6 V313.6" stroke="#a4a4a4" stroke-width="0.8" fill="none"/>
<path d="M375.6 254.6 V313.6" stroke="#a4a4a4" stroke-width="0.8" fill="none"/>
<path d="M375.20000000000005 313.6 H435.3" stroke="#8e8e8e" stroke-width="0.85" fill="none"/>
<path d="M369.40000000000003 301.6 V319.90000000000003 H387.20000000000005" fill="none" stroke="#111" stroke-width="1.2"/>
<path d="M367.1 302.40000000000003 L369.40000000000003 296.70000000000005 L371.70000000000005 302.40000000000003 Z" fill="#111"/>
<path d="M386.5 317.6 L392.20000000000005 319.90000000000003 L386.5 322.20000000000005 Z" fill="#111"/>
<text x="366.10" y="329.00" font-size="7.7" fill="#222">CD45RA</text>
<text transform="translate(366.70,311.20) rotate(-90)" text-anchor="middle" font-size="7.6" fill="#222">CD62L</text>
<g transform="translate(452.1,254.6)">
<g fill="#4a4a4a" opacity="0.35"><circle cx="6.2" cy="55.6" r="0.45"/><circle cx="7.0" cy="47.4" r="0.45"/><circle cx="2.1" cy="44.9" r="0.45"/><circle cx="3.0" cy="49.8" r="0.45"/><circle cx="4.9" cy="55.9" r="0.45"/><circle cx="5.8" cy="43.8" r="0.45"/><circle cx="8.4" cy="52.8" r="0.45"/><circle cx="5.3" cy="45.2" r="0.45"/><circle cx="1.3" cy="45.4" r="0.45"/><circle cx="7.4" cy="45.2" r="0.45"/><circle cx="1.6" cy="49.9" r="0.45"/><circle cx="5.7" cy="52.3" r="0.45"/><circle cx="6.6" cy="55.1" r="0.45"/><circle cx="2.8" cy="53.6" r="0.45"/><circle cx="2.4" cy="52.3" r="0.45"/><circle cx="5.6" cy="50.4" r="0.45"/><circle cx="7.8" cy="48.9" r="0.45"/><circle cx="7.8" cy="52.9" r="0.45"/><circle cx="5.4" cy="45.9" r="0.45"/><circle cx="2.8" cy="46.3" r="0.45"/></g>
<g clip-path="url(#pc)"><g filter="url(#jet)">
<path d="M5.0 23.5 L10.0 22.5 L25.0 22.4 L36.0 22.5 L37.0 26.0 L37.0 58.5 L21.0 58.5 L18.0 56.0 L11.0 50.0 L9.0 45.0 L8.5 41.0 L13.5 36.5 L9.0 32.0 L6.0 28.0 Z" fill="#fff" fill-opacity="0.2"/>
<ellipse cx="31" cy="39" rx="7" ry="17" fill="url(#h)" opacity="0.4"/>
<ellipse cx="32.5" cy="32" rx="2.6" ry="3.6" fill="url(#g)" opacity="0.85"/>
<ellipse cx="32.2" cy="44" rx="3" ry="4.6" fill="url(#g)" opacity="0.95"/>
<ellipse cx="22" cy="44" rx="7" ry="5" fill="url(#g)" opacity="0.25" transform="rotate(-20 22 44)"/>
<ellipse cx="15" cy="28" rx="8" ry="4" fill="url(#g)" opacity="0.1"/>
</g></g>
<rect x="-0.5" y="12.9" width="25.6" height="20.700000000000003" fill="none" stroke="#a39c90" stroke-width="0.55"/>
<text x="10.4" y="9.25" font-size="7.6" text-anchor="middle" fill="#222">8.5</text>
</g>
<path d="M452.1 254.6 H511.40000000000003" stroke="#d2d2d2" stroke-width="0.9" fill="none"/>
<path d="M511.40000000000003 254.6 V313.6" stroke="#a4a4a4" stroke-width="0.8" fill="none"/>
<path d="M452.1 254.6 V313.6" stroke="#a4a4a4" stroke-width="0.8" fill="none"/>
<path d="M451.70000000000005 313.6 H511.8" stroke="#8e8e8e" stroke-width="0.85" fill="none"/>
<path d="M445.90000000000003 301.6 V319.90000000000003 H463.70000000000005" fill="none" stroke="#111" stroke-width="1.2"/>
<path d="M443.6 302.40000000000003 L445.90000000000003 296.70000000000005 L448.20000000000005 302.40000000000003 Z" fill="#111"/>
<path d="M463.0 317.6 L468.70000000000005 319.90000000000003 L463.0 322.20000000000005 Z" fill="#111"/>
<text x="441.40" y="329.00" font-size="7.7" fill="#222">CD45RO</text>
<text transform="translate(443.20,311.20) rotate(-90)" text-anchor="middle" font-size="7.6" fill="#222">CCR7</text>
<g transform="translate(22.5,364.7)">
<g fill="#4a4a4a" opacity="0.5"><circle cx="16.3" cy="39.9" r="0.45"/><circle cx="29.7" cy="41.3" r="0.45"/><circle cx="23.6" cy="36.9" r="0.45"/><circle cx="12.4" cy="38.7" r="0.45"/><circle cx="19.4" cy="36.1" r="0.45"/><circle cx="27.9" cy="38.3" r="0.45"/><circle cx="22.9" cy="34.7" r="0.45"/><circle cx="17.9" cy="41.2" r="0.45"/><circle cx="19.5" cy="42.4" r="0.45"/><circle cx="20.3" cy="40.7" r="0.45"/><circle cx="7.5" cy="38.0" r="0.45"/><circle cx="6.7" cy="41.5" r="0.45"/><circle cx="20.6" cy="39.2" r="0.45"/><circle cx="11.8" cy="37.8" r="0.45"/><circle cx="26.6" cy="44.0" r="0.45"/><circle cx="17.6" cy="44.5" r="0.45"/><circle cx="10.6" cy="35.5" r="0.45"/><circle cx="14.4" cy="36.7" r="0.45"/><circle cx="13.5" cy="40.8" r="0.45"/><circle cx="29.7" cy="38.7" r="0.45"/><circle cx="18.4" cy="41.2" r="0.45"/><circle cx="17.7" cy="43.6" r="0.45"/><circle cx="27.3" cy="36.7" r="0.45"/><circle cx="19.4" cy="38.9" r="0.45"/><circle cx="20.3" cy="35.1" r="0.45"/><circle cx="10.8" cy="35.3" r="0.45"/><circle cx="22.3" cy="40.8" r="0.45"/><circle cx="18.4" cy="34.2" r="0.45"/><circle cx="15.1" cy="37.1" r="0.45"/><circle cx="9.2" cy="37.2" r="0.45"/></g>
<g fill="#4a4a4a" opacity="0.5"><circle cx="32.7" cy="52.1" r="0.45"/><circle cx="29.9" cy="52.1" r="0.45"/><circle cx="27.6" cy="50.3" r="0.45"/><circle cx="30.2" cy="52.3" r="0.45"/><circle cx="29.7" cy="49.4" r="0.45"/><circle cx="29.5" cy="47.4" r="0.45"/><circle cx="35.6" cy="51.3" r="0.45"/><circle cx="31.1" cy="55.7" r="0.45"/><circle cx="33.8" cy="45.8" r="0.45"/><circle cx="32.6" cy="53.1" r="0.45"/><circle cx="34.7" cy="53.3" r="0.45"/><circle cx="32.6" cy="46.0" r="0.45"/><circle cx="26.7" cy="51.0" r="0.45"/><circle cx="31.8" cy="46.3" r="0.45"/><circle cx="28.4" cy="48.4" r="0.45"/></g>
<g clip-path="url(#pc)"><g filter="url(#jet)">
<path d="M0.7 25.4 L6.9 22.7 L18.0 21.4 L26.6 21.7 L35.2 22.1 L41.3 23.3 L43.2 26.4 L41.3 32.5 L36.4 36.8 L31.5 35.6 L27.2 34.7 L26.8 39.9 L24.7 51.0 L21.9 52.4 L19.8 48.5 L20.4 39.9 L22.3 34.4 L18.0 31.5 L15.5 32.3 L6.9 29.1 L1.3 27.1 Z" fill="#fff" fill-opacity="0.2"/>
<ellipse cx="12" cy="25.5" rx="9" ry="3" fill="url(#g)" opacity="0.15" transform="rotate(-8 12 25.5)"/>
<ellipse cx="35.2" cy="28.0" rx="4.5" ry="4" fill="url(#h)" opacity="0.32"/>
<ellipse cx="35.2" cy="28.0" rx="1.4" ry="1.4" fill="url(#g)" opacity="0.45"/>
<path d="M5.0 49.7 L9.3 45.1 L11.8 43.6 L16.7 47.9 L15.5 53.4 L11.8 55.3 L6.9 53.4 Z" fill="#fff" fill-opacity="0.2"/>
</g></g>
<path d="M29.0 20.5 L42.6 20.5 L45.3 23.9 L45.3 33.1 L41.9 36.8 L30.9 37.2 L27.2 34.4 L26.8 23.9 Z" fill="none" stroke="#9a9286" stroke-width="0.55" stroke-linejoin="round"/>
<text x="37.0" y="15.25" font-size="7.6" text-anchor="middle" fill="#222">91</text>
</g>
<path d="M22.5 364.7 H81.8" stroke="#d2d2d2" stroke-width="0.9" fill="none"/>
<path d="M81.8 364.7 V423.7" stroke="#a4a4a4" stroke-width="0.8" fill="none"/>
<path d="M22.5 364.7 V423.7" stroke="#a4a4a4" stroke-width="0.8" fill="none"/>
<path d="M22.1 423.7 H82.2" stroke="#8e8e8e" stroke-width="0.85" fill="none"/>
<path d="M16.3 411.7 V430.0 H34.1" fill="none" stroke="#111" stroke-width="1.2"/>
<path d="M14.0 412.5 L16.3 406.8 L18.6 412.5 Z" fill="#111"/>
<path d="M33.4 427.7 L39.1 430.0 L33.4 432.3 Z" fill="#111"/>
<text x="16.40" y="439.10" font-size="7.7" fill="#222">CD8</text>
<text transform="translate(13.60,421.30) rotate(-90)" text-anchor="middle" font-size="7.6" fill="#222">CD3</text>
<g transform="translate(99.6,364.7)">
<g fill="#4a4a4a" opacity="0.5"><circle cx="20.5" cy="54.7" r="0.45"/><circle cx="18.0" cy="51.8" r="0.45"/><circle cx="26.9" cy="56.2" r="0.45"/><circle cx="19.2" cy="55.9" r="0.45"/><circle cx="23.5" cy="55.3" r="0.45"/><circle cx="23.7" cy="52.5" r="0.45"/><circle cx="24.2" cy="55.8" r="0.45"/><circle cx="15.3" cy="56.6" r="0.45"/><circle cx="28.9" cy="56.0" r="0.45"/><circle cx="30.6" cy="55.0" r="0.45"/><circle cx="17.3" cy="52.8" r="0.45"/><circle cx="13.6" cy="54.2" r="0.45"/><circle cx="19.7" cy="55.3" r="0.45"/><circle cx="12.1" cy="56.2" r="0.45"/><circle cx="31.5" cy="54.0" r="0.45"/><circle cx="25.3" cy="54.9" r="0.45"/><circle cx="22.3" cy="53.6" r="0.45"/><circle cx="19.0" cy="52.4" r="0.45"/><circle cx="21.5" cy="53.9" r="0.45"/><circle cx="22.5" cy="52.4" r="0.45"/><circle cx="20.3" cy="54.1" r="0.45"/><circle cx="24.3" cy="52.1" r="0.45"/><circle cx="23.1" cy="55.8" r="0.45"/><circle cx="24.8" cy="53.3" r="0.45"/><circle cx="16.0" cy="53.5" r="0.45"/><circle cx="24.5" cy="56.4" r="0.45"/><circle cx="18.7" cy="52.7" r="0.45"/><circle cx="23.1" cy="54.4" r="0.45"/><circle cx="13.4" cy="52.7" r="0.45"/><circle cx="19.2" cy="55.3" r="0.45"/></g>
<g fill="#4a4a4a" opacity="0.5"><circle cx="2.1" cy="27.3" r="0.45"/><circle cx="4.9" cy="26.5" r="0.45"/><circle cx="4.2" cy="31.2" r="0.45"/><circle cx="3.8" cy="26.8" r="0.45"/><circle cx="3.9" cy="28.8" r="0.45"/><circle cx="4.6" cy="27.3" r="0.45"/><circle cx="5.5" cy="26.1" r="0.45"/><circle cx="3.6" cy="30.0" r="0.45"/></g>
<g clip-path="url(#pc)"><g filter="url(#jet)">
<path d="M6.4 26.3 L10.4 25.8 L20.4 26.3 L25.4 25.3 L30.4 24.3 L36.4 23.8 L39.4 25.3 L39.9 30.3 L38.4 40.3 L37.4 50.3 L35.4 52.3 L26.4 52.8 L24.4 49.3 L21.4 47.3 L18.4 46.3 L16.4 48.3 L13.4 50.3 L11.4 46.3 L9.4 44.3 L7.4 35.3 L6.4 30.3 Z" fill="#fff" fill-opacity="0.21"/>
<ellipse cx="34.5" cy="33" rx="5.5" ry="8" fill="url(#h)" opacity="0.38"/>
<ellipse cx="35.1" cy="30.9" rx="2.8" ry="3.2" fill="url(#g)" opacity="0.82"/>
<ellipse cx="35.1" cy="30.8" rx="1.7" ry="2.0" fill="url(#g)" opacity="1.0"/>
<ellipse cx="18" cy="36" rx="10" ry="8" fill="url(#g)" opacity="0.1"/>
<ellipse cx="30" cy="40" rx="6" ry="6" fill="url(#g)" opacity="0.15"/>
</g></g>
<rect x="24.0" y="15.3" width="21.9" height="20.7" fill="none" stroke="#a39c90" stroke-width="0.55"/>
<text x="34.1" y="10.35" font-size="7.6" text-anchor="middle" fill="#222">77</text>
</g>
<path d="M99.6 364.7 H158.89999999999998" stroke="#d2d2d2" stroke-width="0.9" fill="none"/>
<path d="M158.89999999999998 364.7 V423.7" stroke="#a4a4a4" stroke-width="0.8" fill="none"/>
<path d="M99.6 364.7 V423.7" stroke="#a4a4a4" stroke-width="0.8" fill="none"/>
<path d="M99.19999999999999 423.7 H159.29999999999998" stroke="#8e8e8e" stroke-width="0.85" fill="none"/>
<path d="M93.39999999999999 411.7 V430.0 H111.19999999999999" fill="none" stroke="#111" stroke-width="1.2"/>
<path d="M91.1 412.5 L93.39999999999999 406.8 L95.69999999999999 412.5 Z" fill="#111"/>
<path d="M110.5 427.7 L116.19999999999999 430.0 L110.5 432.3 Z" fill="#111"/>
<text x="90.10" y="439.10" font-size="7.7" fill="#222">CD45RA</text>
<text transform="translate(90.70,421.30) rotate(-90)" text-anchor="middle" font-size="7.6" fill="#222">CD62L</text>
<g transform="translate(176.3,364.7)">
<g fill="#4a4a4a" opacity="0.5"><circle cx="27.0" cy="52.9" r="0.45"/><circle cx="24.3" cy="52.9" r="0.45"/><circle cx="24.3" cy="56.5" r="0.45"/><circle cx="16.7" cy="54.9" r="0.45"/><circle cx="13.6" cy="55.7" r="0.45"/><circle cx="28.6" cy="54.1" r="0.45"/><circle cx="11.9" cy="54.7" r="0.45"/><circle cx="27.4" cy="55.7" r="0.45"/><circle cx="24.5" cy="51.4" r="0.45"/><circle cx="15.6" cy="56.3" r="0.45"/><circle cx="12.4" cy="55.8" r="0.45"/><circle cx="30.4" cy="55.1" r="0.45"/><circle cx="28.1" cy="53.4" r="0.45"/><circle cx="11.3" cy="53.8" r="0.45"/><circle cx="18.3" cy="53.9" r="0.45"/><circle cx="25.6" cy="53.7" r="0.45"/><circle cx="21.6" cy="54.9" r="0.45"/><circle cx="20.0" cy="56.7" r="0.45"/><circle cx="23.7" cy="54.2" r="0.45"/><circle cx="18.3" cy="52.7" r="0.45"/><circle cx="29.2" cy="54.3" r="0.45"/><circle cx="12.3" cy="53.0" r="0.45"/><circle cx="18.9" cy="53.1" r="0.45"/><circle cx="26.9" cy="52.1" r="0.45"/><circle cx="24.0" cy="54.3" r="0.45"/></g>
<g clip-path="url(#pc)"><g filter="url(#jet)">
<path d="M0.7 21.8 L3.7 20.3 L9.7 19.3 L18.7 19.8 L22.7 21.3 L25.7 24.3 L28.7 27.3 L31.7 27.8 L34.7 30.3 L35.2 35.3 L33.7 39.3 L34.7 44.3 L32.7 47.8 L29.7 48.3 L28.7 45.3 L26.7 43.3 L23.7 45.3 L18.7 48.3 L13.7 51.3 L8.7 53.3 L4.7 50.3 L2.7 45.3 L2.7 35.3 L1.7 30.3 L0.7 27.3 Z" fill="#fff" fill-opacity="0.21"/>
<ellipse cx="11.2" cy="25" rx="10.5" ry="5.5" fill="url(#h)" opacity="0.45"/>
<ellipse cx="11.0" cy="24.6" rx="5.5" ry="2.5" fill="url(#g)" opacity="0.8"/>
<ellipse cx="10.9" cy="24.4" rx="3.3" ry="1.4" fill="url(#g)" opacity="1.0"/>
<ellipse cx="11.4" cy="40.3" rx="7" ry="7" fill="url(#g)" opacity="0.2"/>
<ellipse cx="11.4" cy="40.3" rx="3.5" ry="3.5" fill="url(#g)" opacity="0.15"/>
</g></g>
<rect x="-0.5" y="12.8" width="25.8" height="20.3" fill="none" stroke="#a39c90" stroke-width="0.55"/>
<text x="11.4" y="9.35" font-size="7.6" text-anchor="middle" fill="#222">63</text>
</g>
<path d="M176.3 364.7 H235.60000000000002" stroke="#d2d2d2" stroke-width="0.9" fill="none"/>
<path d="M235.60000000000002 364.7 V423.7" stroke="#a4a4a4" stroke-width="0.8" fill="none"/>
<path d="M176.3 364.7 V423.7" stroke="#a4a4a4" stroke-width="0.8" fill="none"/>
<path d="M175.9 423.7 H236.00000000000003" stroke="#8e8e8e" stroke-width="0.85" fill="none"/>
<path d="M170.10000000000002 411.7 V430.0 H187.9" fill="none" stroke="#111" stroke-width="1.2"/>
<path d="M167.8 412.5 L170.10000000000002 406.8 L172.40000000000003 412.5 Z" fill="#111"/>
<path d="M187.20000000000002 427.7 L192.9 430.0 L187.20000000000002 432.3 Z" fill="#111"/>
<text x="165.60" y="439.10" font-size="7.7" fill="#222">CD45RO</text>
<text transform="translate(167.40,421.30) rotate(-90)" text-anchor="middle" font-size="7.6" fill="#222">CCR7</text>
<line x1="130.9" y1="105.2" x2="130.9" y2="112.1" stroke="#111" stroke-width="1.15"/>
<text x="130.4" y="122.7" font-size="7.6" font-style="italic" text-anchor="middle" fill="#222">CD8 <tspan font-size="5.5" font-style="normal">+</tspan></text>
<line x1="130.9" y1="127.7" x2="130.9" y2="134.6" stroke="#111" stroke-width="1.15"/>
<path d="M128.5 133.2 L133.3 133.2 L130.9 138.6 Z" fill="#111"/>
<line x1="130.9" y1="214.9" x2="130.9" y2="221.6" stroke="#111" stroke-width="1.15"/>
<text x="132.6" y="233.6" font-size="7.6" font-style="italic" text-anchor="middle" fill="#222">CD62L <tspan font-size="5.5" font-style="normal">+</tspan></text>
<line x1="130.9" y1="236.8" x2="130.9" y2="244.6" stroke="#111" stroke-width="1.15"/>
<path d="M128.5 243.2 L133.3 243.2 L130.9 248.6 Z" fill="#111"/>
<line x1="130.9" y1="322.5" x2="130.9" y2="330.6" stroke="#111" stroke-width="1.15"/>
<text x="130.6" y="341.3" font-size="7.6" font-style="italic" text-anchor="middle" fill="#222">CD45RA <tspan font-size="5.5" font-style="normal">+</tspan></text>
<line x1="130.9" y1="346.1" x2="130.9" y2="352.0" stroke="#111" stroke-width="1.15"/>
<path d="M128.5 350.6 L133.3 350.6 L130.9 356.0 Z" fill="#111"/>
<line x1="241.9" y1="67.6" x2="281" y2="67.6" stroke="#111" stroke-width="1.15"/>
<path d="M280.4 65.0 L285.9 67.6 L280.4 70.19999999999999 Z" fill="#111"/>
<text x="251.0" y="63.8" font-size="7.3" font-style="italic" fill="#222">CD8 <tspan font-size="6">–</tspan></text>
<line x1="241.9" y1="176.9" x2="281" y2="176.9" stroke="#111" stroke-width="1.15"/>
<path d="M280.4 174.3 L285.9 176.9 L280.4 179.5 Z" fill="#111"/>
<text x="246.8" y="173.5" font-size="7.3" font-style="italic" fill="#222">CD62L <tspan font-size="6">–</tspan></text>
<line x1="241.9" y1="283.5" x2="281" y2="283.5" stroke="#111" stroke-width="1.15"/>
<path d="M280.4 280.9 L285.9 283.5 L280.4 286.1 Z" fill="#111"/>
<text x="242.8" y="277.9" font-size="7.3" font-style="italic" fill="#222">CD45RA <tspan font-size="6">–</tspan></text>
<text x="246.3" y="359.9" font-size="10.8" font-weight="bold" fill="#000">B</text>
<path d="M295.6 377.3 V443.4 H392.6" fill="none" stroke="#000" stroke-width="1.3"/>
<path d="M293.8 433.77 H295.6 M293.8 428.13 H295.6 M293.8 424.13 H295.6 M293.8 421.03 H295.6 M293.8 418.50 H295.6 M293.8 416.36 H295.6 M293.8 414.50 H295.6 M293.8 412.86 H295.6 M293.8 401.77 H295.6 M293.8 396.13 H295.6 M293.8 392.13 H295.6 M293.8 389.03 H295.6 M293.8 386.50 H295.6 M293.8 384.36 H295.6 M293.8 382.50 H295.6 M293.8 380.86 H295.6 M292.40000000000003 443.40 H295.6 M292.40000000000003 411.40 H295.6 M292.40000000000003 379.40 H295.6 M307.5 443.4 V446.59999999999997 M332.2 443.4 V446.59999999999997 M356.6 443.4 V446.59999999999997 M380.9 443.4 V446.59999999999997" stroke="#000" stroke-width="0.9" fill="none"/>
<text x="290.4" y="382.00" font-size="7.4" text-anchor="end" fill="#111">100</text>
<text x="290.4" y="414.00" font-size="7.4" text-anchor="end" fill="#111">10</text>
<text x="290.4" y="446.00" font-size="7.4" text-anchor="end" fill="#111">1</text>
<text transform="translate(261.4,412) rotate(-90)" font-size="7.3" text-anchor="middle" fill="#111">CD8<tspan font-size="4.5" dy="-2.6">+</tspan><tspan dy="2.6"> CD45RA</tspan><tspan font-size="4.5" dy="-2.6">+</tspan><tspan dy="2.6"> CD62L</tspan><tspan font-size="4.5" dy="-2.6">+</tspan></text>
<text transform="translate(270.9,411.8) rotate(-90)" font-size="7.3" text-anchor="middle" fill="#111">T cells (%)</text>
<text transform="translate(309.9,453.6) rotate(-45)" font-size="7.9" text-anchor="end" fill="#111">Pre</text>
<text transform="translate(334.6,453.6) rotate(-45)" font-size="7.9" text-anchor="end" fill="#111">CD8<tspan font-size="4.5" dy="-2.6">+</tspan></text>
<text transform="translate(359.0,453.6) rotate(-45)" font-size="7.9" text-anchor="end" fill="#111">CD62L<tspan font-size="4.5" dy="-2.6">+</tspan></text>
<text transform="translate(383.3,453.6) rotate(-45)" font-size="7.9" text-anchor="end" fill="#111">CD45RA<tspan font-size="4.5" dy="-2.6">+</tspan></text>
<path d="M300 415.7 H316 M307.8 409.5 V425.2 M305 409.5 H310.6 M305 425.2 H312" stroke="#000" stroke-width="1.2" fill="none"/>
<rect x="308.2" y="417.8" width="5.0" height="5.0" fill="#000"/>
<path d="M304.5 422.40000000000003 L307.4 427.8 L301.6 427.8 Z" fill="#000"/>
<circle cx="305.8" cy="415.4" r="2.5" fill="#000"/>
<circle cx="307.5" cy="416.5" r="2.5" fill="#000"/>
<rect x="302.25" y="409.55" width="3.9" height="3.9" fill="#fff" stroke="#000" stroke-width="1.2"/>
<circle cx="311" cy="414.1" r="1.95" fill="#fff" stroke="#000" stroke-width="1.2"/>
<path d="M306.5 411.3 L308.9 415.5 L304.1 415.5 Z" fill="#fff" stroke="#000" stroke-width="1.1" stroke-linejoin="miter"/>
<path d="M323.8 395.1 H336.6 M327.3 392.6 H336 M327.3 397.4 H336" stroke="#000" stroke-width="1.2" fill="none"/>
<path d="M328.5 396.40000000000003 L331.4 401.8 L325.6 401.8 Z" fill="#000"/>
<rect x="329.0" y="397.0" width="5.0" height="5.0" fill="#000"/>
<circle cx="334.5" cy="399.6" r="2.5" fill="#000"/>
<path d="M335.5 395.6 L338.4 401.0 L332.6 401.0 Z" fill="#000"/>
<rect x="326.65000000000003" y="384.65000000000003" width="3.9" height="3.9" fill="#fff" stroke="#000" stroke-width="1.2"/>
<circle cx="338.6" cy="393.1" r="1.95" fill="#fff" stroke="#000" stroke-width="1.2"/>
<path d="M348.3 384.6 H364.6" stroke="#000" stroke-width="1.2" fill="none"/>
<circle cx="351" cy="385.8" r="2.5" fill="#000"/>
<rect x="351.5" y="383.1" width="5.0" height="5.0" fill="#000"/>
<path d="M356.5 382.3 L359.4 387.7 L353.6 387.7 Z" fill="#000"/>
<circle cx="353" cy="386.4" r="2.5" fill="#000"/>
<path d="M362 382.0 L364.9 387.4 L359.1 387.4 Z" fill="#000"/>
<rect x="357.85" y="381.25" width="3.9" height="3.9" fill="#fff" stroke="#000" stroke-width="1.2"/>
<path d="M372.3 383.5 H388.6" stroke="#000" stroke-width="1.2" fill="none"/>
<rect x="373.5" y="380.5" width="5.0" height="5.0" fill="#000"/>
<circle cx="378" cy="384.4" r="2.5" fill="#000"/>
<path d="M380 382.8 L382.9 388.2 L377.1 388.2 Z" fill="#000"/>
<rect x="383.5" y="381.5" width="5.0" height="5.0" fill="#000"/>
<rect x="381.35" y="379.65000000000003" width="3.9" height="3.9" fill="#fff" stroke="#000" stroke-width="1.2"/>
<circle cx="381" cy="386" r="1.95" fill="#fff" stroke="#000" stroke-width="1.2"/>
<text x="402.4" y="360.3" font-size="10.8" font-weight="bold" fill="#000">C</text>
<path d="M433.3 377.3 V443.4 H480" fill="none" stroke="#000" stroke-width="1.3"/>
<path d="M431.5 433.77 H433.3 M431.5 428.13 H433.3 M431.5 424.13 H433.3 M431.5 421.03 H433.3 M431.5 418.50 H433.3 M431.5 416.36 H433.3 M431.5 414.50 H433.3 M431.5 412.86 H433.3 M431.5 401.77 H433.3 M431.5 396.13 H433.3 M431.5 392.13 H433.3 M431.5 389.03 H433.3 M431.5 386.50 H433.3 M431.5 384.36 H433.3 M431.5 382.50 H433.3 M431.5 380.86 H433.3 M430.1 443.40 H433.3 M430.1 411.40 H433.3 M430.1 379.40 H433.3" stroke="#000" stroke-width="0.9" fill="none"/>
<text x="428.1" y="382.00" font-size="7.4" text-anchor="end" fill="#111">100</text>
<text x="428.1" y="414.00" font-size="7.4" text-anchor="end" fill="#111">10</text>
<text x="428.1" y="446.00" font-size="7.4" text-anchor="end" fill="#111">1</text>
<text transform="translate(410.2,411.6) rotate(-90)" font-size="7.3" text-anchor="middle" fill="#111">Yield (%)</text>
<path d="M441.8 389.9 H472.3" stroke="#000" stroke-width="1.3" fill="none"/>
<path d="M448.8 387.4 H465.3" stroke="#666" stroke-width="1.4" fill="none"/>
<path d="M456.1 378.6 L459.0 384.0 L453.20000000000005 384.0 Z" fill="#000"/>
<path d="M444.4 388.40000000000003 L446.79999999999995 392.6 L442.0 392.6 Z" fill="#fff" stroke="#000" stroke-width="1.1" stroke-linejoin="miter"/>
<rect x="448.0" y="390.7" width="5.0" height="5.0" fill="#000"/>
<rect x="454.65000000000003" y="392.65000000000003" width="3.9" height="3.9" fill="#fff" stroke="#000" stroke-width="1.2"/>
<circle cx="462.4" cy="394.1" r="2.5" fill="#000"/>
<circle cx="468.8" cy="391.7" r="1.95" fill="#fff" stroke="#000" stroke-width="1.2"/>
<circle cx="485.9" cy="388.6" r="2.5" fill="#000"/>
<text x="495.4" y="391.20" font-size="7.3" fill="#111">HD 1</text>
<circle cx="485.9" cy="396.86" r="1.95" fill="#fff" stroke="#000" stroke-width="1.2"/>
<text x="495.4" y="399.46" font-size="7.3" fill="#111">HD 2</text>
<rect x="483.4" y="402.62" width="5.0" height="5.0" fill="#000"/>
<text x="495.4" y="407.72" font-size="7.3" fill="#111">HD 3</text>
<rect x="483.95" y="411.43" width="3.9" height="3.9" fill="#fff" stroke="#000" stroke-width="1.2"/>
<text x="495.4" y="415.98" font-size="7.3" fill="#111">HD 4</text>
<path d="M485.9 418.74000000000007 L488.79999999999995 424.14000000000004 L483.0 424.14000000000004 Z" fill="#000"/>
<text x="495.4" y="424.24" font-size="7.3" fill="#111">HD 5</text>
<path d="M485.9 427.70000000000005 L488.29999999999995 431.90000000000003 L483.5 431.90000000000003 Z" fill="#fff" stroke="#000" stroke-width="1.1" stroke-linejoin="miter"/>
<text x="495.4" y="432.50" font-size="7.3" fill="#111">HD 6</text>
</svg>
</body></html>
